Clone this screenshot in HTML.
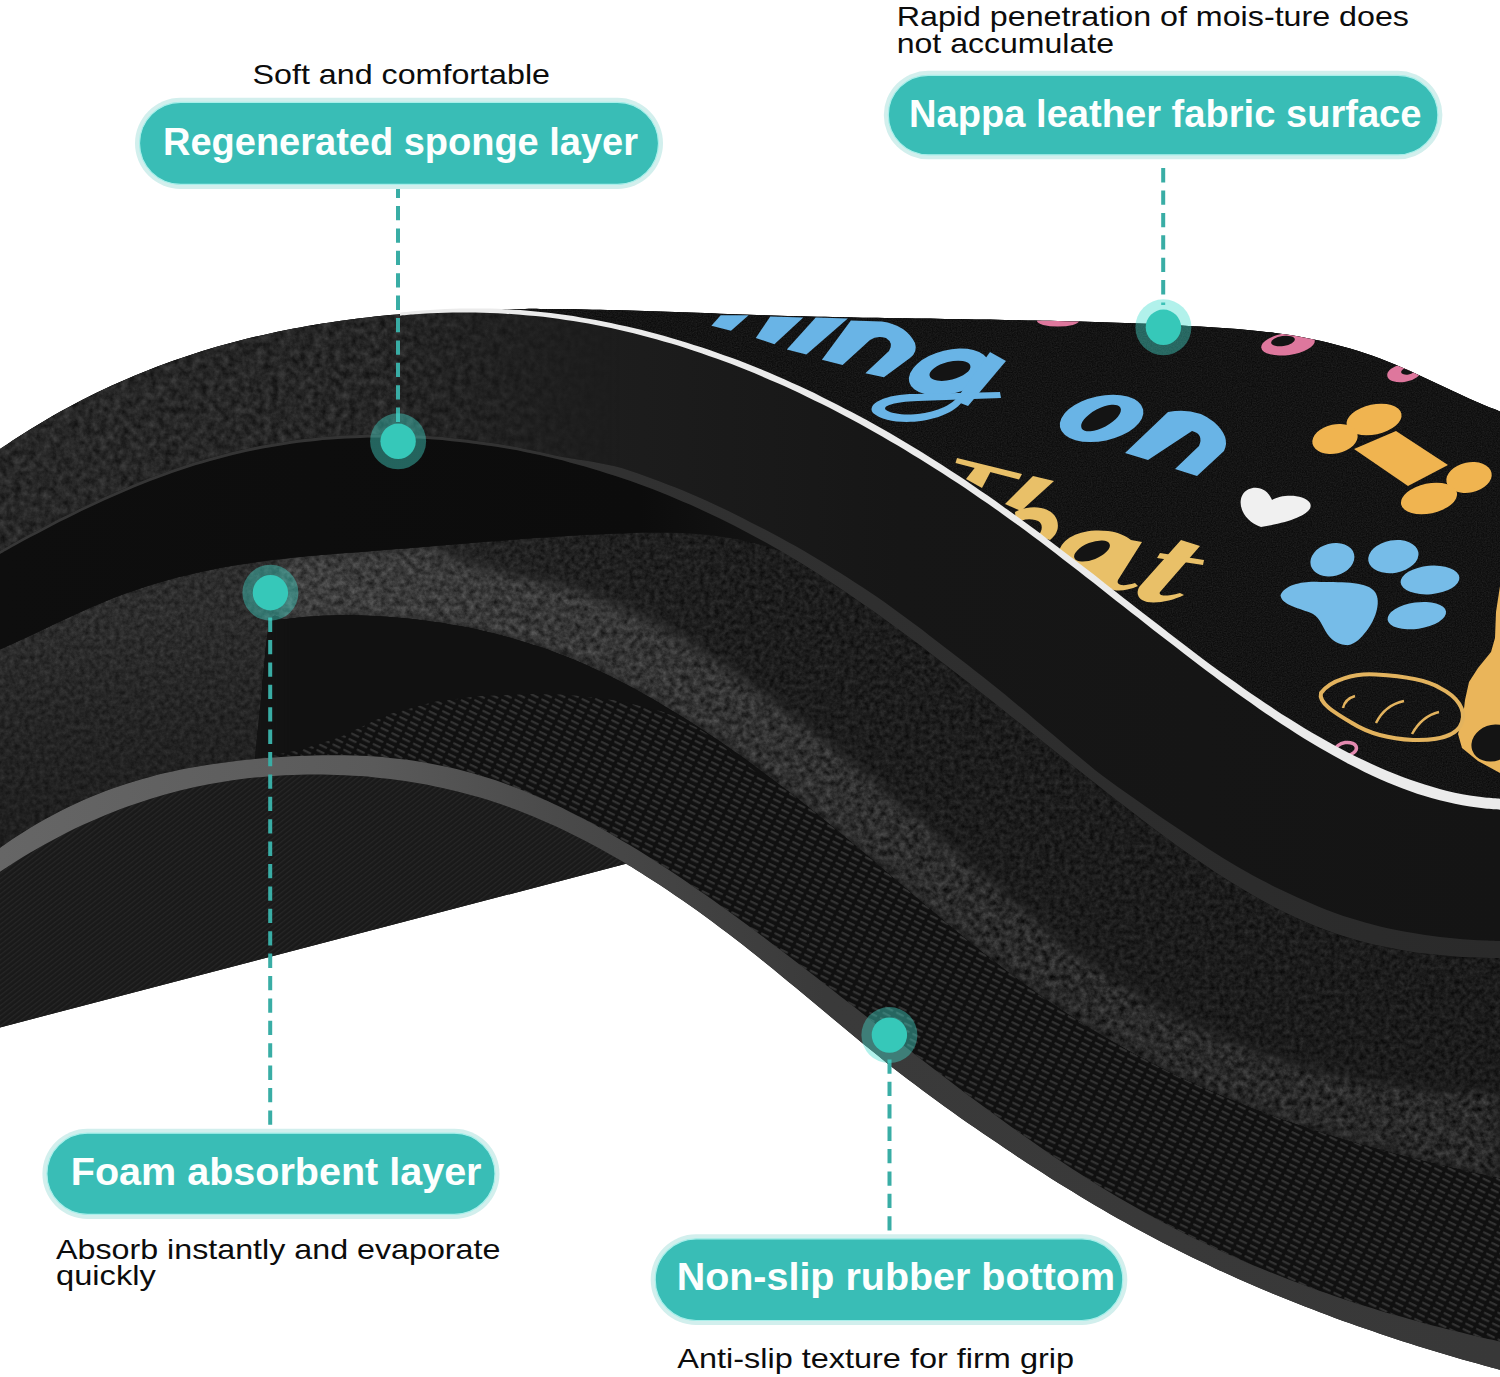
<!DOCTYPE html>
<html><head><meta charset="utf-8"><style>
html,body{margin:0;padding:0;background:#fff;}
body{width:1500px;height:1377px;overflow:hidden;font-family:"Liberation Sans",sans-serif;}
svg{display:block;}
</style></head><body>
<svg xmlns="http://www.w3.org/2000/svg" width="1500" height="1377" viewBox="0 0 1500 1377">
<defs>
<linearGradient id="gS" gradientUnits="userSpaceOnUse" x1="0" y1="0" x2="1500" y2="0">
 <stop offset="0" stop-color="#282828"/><stop offset="0.25" stop-color="#262626"/><stop offset="0.4" stop-color="#1d1d1d"/><stop offset="0.6" stop-color="#161616"/><stop offset="1" stop-color="#141414"/>
</linearGradient>
<linearGradient id="gFoam" gradientUnits="userSpaceOnUse" x1="0" y1="0" x2="1500" y2="0">
 <stop offset="0" stop-color="#2e2e2e"/><stop offset="0.2" stop-color="#2c2c2c"/><stop offset="0.34" stop-color="#222222"/><stop offset="0.5" stop-color="#1d1d1d"/><stop offset="1" stop-color="#1b1b1b"/>
</linearGradient>
<linearGradient id="gFoamShade" gradientUnits="userSpaceOnUse" x1="0" y1="620" x2="0" y2="820">
 <stop offset="0" stop-color="#000" stop-opacity="0"/><stop offset="0.5" stop-color="#000" stop-opacity="0.18"/><stop offset="1" stop-color="#000" stop-opacity="0.3"/>
</linearGradient>
<linearGradient id="gShadeMask" gradientUnits="userSpaceOnUse" x1="250" y1="0" x2="330" y2="0">
 <stop offset="0" stop-color="#fff" stop-opacity="1"/><stop offset="1" stop-color="#fff" stop-opacity="0"/>
</linearGradient>
<mask id="mShade" maskUnits="userSpaceOnUse" x="0" y="0" width="1500" height="1377"><rect x="0" y="0" width="1500" height="1377" fill="url(#gShadeMask)"/></mask>
<linearGradient id="gFL" gradientUnits="userSpaceOnUse" x1="280" y1="0" x2="1500" y2="0">
 <stop offset="0" stop-color="#3e3e3e"/><stop offset="0.3" stop-color="#353535"/><stop offset="0.6" stop-color="#2a2a2a"/><stop offset="1" stop-color="#282828"/>
</linearGradient>
<linearGradient id="gRim" gradientUnits="userSpaceOnUse" x1="0" y1="0" x2="1500" y2="0">
 <stop offset="0" stop-color="#666666"/><stop offset="0.25" stop-color="#5a5a5a"/><stop offset="0.37" stop-color="#4a4a4a"/><stop offset="0.55" stop-color="#3a3a3a"/><stop offset="1" stop-color="#383838"/>
</linearGradient>
<linearGradient id="gB" gradientUnits="userSpaceOnUse" x1="0" y1="0" x2="800" y2="0">
 <stop offset="0" stop-color="#0e0e0e"/><stop offset="0.8" stop-color="#0c0c0c"/><stop offset="1" stop-color="#151515"/>
</linearGradient>
<linearGradient id="gC" gradientUnits="userSpaceOnUse" x1="0" y1="0" x2="1500" y2="0">
 <stop offset="0" stop-color="#363636"/><stop offset="0.5" stop-color="#303030"/><stop offset="1" stop-color="#2a2a2a"/>
</linearGradient>
<filter id="tx1" x="0" y="0" width="100%" height="100%" color-interpolation-filters="sRGB">
 <feTurbulence type="fractalNoise" baseFrequency="0.16" numOctaves="4" seed="7" result="n"/>
 <feColorMatrix in="n" type="matrix" values="1 0 0 0 0  1 0 0 0 0  1 0 0 0 0  0 0 0 0 1" result="g"/>
 <feComposite in="SourceGraphic" in2="g" operator="arithmetic" k1="0" k2="1" k3="0.32" k4="-0.16" result="c"/>
 <feComposite in="c" in2="SourceGraphic" operator="in"/>
</filter>
<filter id="tx3" x="0" y="0" width="100%" height="100%" color-interpolation-filters="sRGB">
 <feTurbulence type="fractalNoise" baseFrequency="0.8" numOctaves="2" seed="11" result="n"/>
 <feColorMatrix in="n" type="matrix" values="1 0 0 0 0  1 0 0 0 0  1 0 0 0 0  0 0 0 0 1" result="g"/>
 <feComposite in="SourceGraphic" in2="g" operator="arithmetic" k1="0" k2="1" k3="0.12" k4="-0.06" result="c"/>
 <feComposite in="c" in2="SourceGraphic" operator="in"/>
</filter>
<filter id="tx1b" x="0" y="0" width="100%" height="100%" color-interpolation-filters="sRGB">
 <feTurbulence type="fractalNoise" baseFrequency="0.2" numOctaves="4" seed="5" result="n"/>
 <feColorMatrix in="n" type="matrix" values="1 0 0 0 0  1 0 0 0 0  1 0 0 0 0  0 0 0 0 1" result="g"/>
 <feComposite in="SourceGraphic" in2="g" operator="arithmetic" k1="0" k2="1" k3="0.18" k4="-0.09" result="c"/>
 <feComposite in="c" in2="SourceGraphic" operator="in"/>
</filter>
<filter id="tx2" x="0" y="0" width="100%" height="100%" color-interpolation-filters="sRGB">
 <feTurbulence type="fractalNoise" baseFrequency="0.14" numOctaves="4" seed="3" result="n"/>
 <feColorMatrix in="n" type="matrix" values="1 0 0 0 0  1 0 0 0 0  1 0 0 0 0  0 0 0 0 1" result="g"/>
 <feComposite in="SourceGraphic" in2="g" operator="arithmetic" k1="0" k2="1" k3="0.22" k4="-0.11" result="c"/>
 <feComposite in="c" in2="SourceGraphic" operator="in"/>
</filter>
<pattern id="weave" patternUnits="userSpaceOnUse" width="12" height="6" patternTransform="rotate(26)">
 <rect width="12" height="6" fill="#101010"/>
 <rect x="1" y="0" width="9" height="2.2" rx="1.1" fill="#333333"/>
</pattern>
<pattern id="hatch" patternUnits="userSpaceOnUse" width="4" height="4" patternTransform="rotate(-38)">
 <rect width="4" height="4" fill="#191919"/>
 <rect width="4" height="1.3" fill="#262626"/>
</pattern>
<linearGradient id="gWovenMask" gradientUnits="userSpaceOnUse" x1="245" y1="0" x2="300" y2="0">
 <stop offset="0" stop-color="#fff" stop-opacity="0"/><stop offset="1" stop-color="#fff" stop-opacity="1"/>
</linearGradient>
<linearGradient id="gSleft" gradientUnits="userSpaceOnUse" x1="380" y1="0" x2="620" y2="0">
 <stop offset="0" stop-color="#fff" stop-opacity="1"/><stop offset="1" stop-color="#fff" stop-opacity="0"/>
</linearGradient>
<mask id="mSleft" maskUnits="userSpaceOnUse" x="0" y="0" width="1500" height="1377"><rect x="0" y="0" width="1500" height="1377" fill="url(#gSleft)"/></mask>
<mask id="mWoven" maskUnits="userSpaceOnUse" x="0" y="0" width="1500" height="1377"><rect x="0" y="0" width="1500" height="1377" fill="url(#gWovenMask)"/></mask>
<filter id="blur5" x="-5%" y="-5%" width="110%" height="110%"><feGaussianBlur stdDeviation="5"/></filter>
<mask id="mFL" maskUnits="userSpaceOnUse" x="0" y="0" width="1500" height="1377"><path d="M279.0,559.2 C280.5,559.1 284.5,558.6 288.0,558.2 C291.5,557.8 296.0,557.4 300.0,557.0 C304.0,556.6 308.0,556.2 312.0,555.8 C316.0,555.4 320.0,555.1 324.0,554.7 C328.0,554.4 332.0,554.1 336.0,553.7 C340.0,553.4 344.0,553.1 348.0,552.8 C352.0,552.5 356.0,552.2 360.0,551.9 C364.0,551.6 368.0,551.3 372.0,551.0 C376.0,550.7 380.0,550.4 384.0,550.1 C388.0,549.8 392.0,549.4 396.0,549.1 C400.0,548.8 404.0,548.5 408.0,548.2 C412.0,547.9 416.3,547.5 420.0,547.2 C423.7,546.9 428.3,546.5 430.0,546.4 L430.0,546.7 C432.5,547.9 440.0,551.8 445.1,554.1 C450.1,556.4 455.1,558.4 460.1,560.2 C465.2,562.1 470.2,563.7 475.2,565.3 C480.2,566.8 485.3,568.2 490.3,569.5 C495.3,570.8 500.3,572.0 505.4,573.2 C510.4,574.4 515.4,575.4 520.4,576.5 C525.4,577.6 530.5,578.6 535.5,579.7 C540.5,580.8 545.5,581.9 550.6,583.0 C555.6,584.2 560.6,585.4 565.6,586.7 C570.7,588.0 575.7,589.4 580.7,591.0 C585.7,592.5 590.8,594.1 595.8,595.9 C600.8,597.6 605.8,599.5 610.8,601.5 C615.9,603.5 620.9,605.6 625.9,607.9 C630.9,610.1 636.0,612.5 641.0,615.0 C646.0,617.5 651.0,620.2 656.1,622.9 C661.1,625.6 666.1,628.4 671.1,631.3 C676.2,634.2 681.2,637.2 686.2,640.3 C691.2,643.3 696.2,646.5 701.3,649.7 C706.3,652.9 711.3,656.1 716.3,659.5 C721.4,662.8 726.4,666.2 731.4,669.7 C736.4,673.1 741.5,676.7 746.5,680.2 C751.5,683.8 756.5,687.5 761.5,691.1 C766.6,694.8 771.6,698.6 776.6,702.4 C781.6,706.1 786.7,710.0 791.7,713.8 C796.7,717.7 801.7,721.6 806.8,725.6 C811.8,729.5 816.8,733.5 821.8,737.5 C826.9,741.5 831.9,745.6 836.9,749.6 C841.9,753.7 846.9,757.8 852.0,761.9 C857.0,766.0 862.0,770.2 867.0,774.3 C872.1,778.5 877.1,782.7 882.1,786.9 C887.1,791.1 892.2,795.3 897.2,799.5 C902.2,803.8 907.2,808.1 912.3,812.4 C917.3,816.7 922.3,821.0 927.3,825.4 C932.3,829.7 937.4,834.1 942.4,838.5 C947.4,842.9 952.4,847.3 957.5,851.7 C962.5,856.1 967.5,860.5 972.5,864.9 C977.6,869.3 982.6,873.7 987.6,878.1 C992.6,882.5 997.7,886.9 1002.7,891.2 C1007.7,895.6 1012.7,899.9 1017.7,904.2 C1022.8,908.5 1027.8,912.7 1032.8,916.9 C1037.8,921.1 1042.9,925.3 1047.9,929.4 C1052.9,933.4 1057.9,937.5 1063.0,941.4 C1068.0,945.3 1073.0,949.2 1078.0,952.9 C1083.1,956.7 1088.1,960.4 1093.1,964.0 C1098.1,967.6 1103.1,971.0 1108.2,974.5 C1113.2,977.9 1118.2,981.2 1123.2,984.4 C1128.3,987.7 1133.3,990.8 1138.3,993.9 C1143.3,996.9 1148.4,999.9 1153.4,1002.8 C1158.4,1005.7 1163.4,1008.5 1168.5,1011.2 C1173.5,1014.0 1178.5,1016.6 1183.5,1019.2 C1188.5,1021.8 1193.6,1024.3 1198.6,1026.7 C1203.6,1029.1 1208.6,1031.4 1213.7,1033.7 C1218.7,1035.9 1223.7,1038.1 1228.7,1040.2 C1233.8,1042.3 1238.8,1044.4 1243.8,1046.3 C1248.8,1048.3 1253.8,1050.2 1258.9,1052.0 C1263.9,1053.8 1268.9,1055.6 1273.9,1057.2 C1279.0,1058.9 1284.0,1060.5 1289.0,1062.1 C1294.0,1063.6 1299.1,1065.1 1304.1,1066.5 C1309.1,1067.9 1314.1,1069.2 1319.2,1070.5 C1324.2,1071.8 1329.2,1073.0 1334.2,1074.1 C1339.2,1075.3 1344.3,1076.3 1349.3,1077.4 C1354.3,1078.4 1359.3,1079.4 1364.4,1080.3 C1369.4,1081.2 1374.4,1082.0 1379.4,1082.8 C1384.5,1083.6 1389.5,1084.3 1394.5,1085.0 C1399.5,1085.6 1404.6,1086.2 1409.6,1086.8 C1414.6,1087.4 1419.6,1087.9 1424.6,1088.3 C1429.7,1088.8 1434.7,1089.2 1439.7,1089.5 C1444.7,1089.9 1449.8,1090.2 1454.8,1090.4 C1459.8,1090.7 1464.8,1090.9 1469.9,1091.0 C1474.9,1091.2 1479.9,1091.3 1484.9,1091.3 C1490.0,1091.4 1497.5,1091.3 1500.0,1091.3 L1500,1178 L1500.0,1178.4 C1497.5,1177.9 1490.0,1176.3 1485.0,1175.2 C1480.0,1174.1 1475.0,1173.0 1470.0,1171.9 C1465.0,1170.8 1460.0,1169.6 1455.0,1168.5 C1450.0,1167.3 1445.0,1166.2 1440.0,1165.0 C1435.0,1163.8 1430.0,1162.6 1425.0,1161.4 C1420.0,1160.2 1415.0,1158.9 1410.0,1157.7 C1405.0,1156.4 1400.0,1155.1 1395.0,1153.8 C1390.0,1152.5 1385.0,1151.2 1380.0,1149.8 C1375.0,1148.5 1370.0,1147.1 1365.0,1145.7 C1360.0,1144.3 1355.0,1142.8 1350.0,1141.3 C1345.0,1139.9 1340.0,1138.4 1335.0,1136.9 C1330.0,1135.3 1325.0,1133.8 1320.0,1132.2 C1315.0,1130.6 1310.0,1129.0 1305.0,1127.3 C1300.0,1125.6 1295.0,1123.9 1290.0,1122.2 C1285.0,1120.5 1280.0,1118.7 1275.0,1116.9 C1270.0,1115.1 1265.0,1113.2 1260.0,1111.3 C1255.0,1109.4 1250.0,1107.5 1245.0,1105.5 C1240.0,1103.5 1235.0,1101.5 1230.0,1099.5 C1225.0,1097.4 1220.0,1095.3 1215.0,1093.1 C1210.0,1091.0 1205.0,1088.8 1200.0,1086.5 C1195.0,1084.3 1190.0,1082.0 1185.0,1079.6 C1180.0,1077.3 1175.0,1074.9 1170.0,1072.4 C1165.0,1070.0 1160.0,1067.5 1155.0,1064.9 C1150.0,1062.3 1145.0,1059.7 1140.0,1057.0 C1135.0,1054.4 1130.0,1051.6 1125.0,1048.9 C1120.0,1046.1 1115.0,1043.2 1110.0,1040.3 C1105.0,1037.4 1100.0,1034.4 1095.0,1031.4 C1090.0,1028.4 1085.0,1025.3 1080.0,1022.1 C1075.0,1019.0 1070.0,1015.8 1065.0,1012.5 C1060.0,1009.2 1055.0,1005.8 1050.0,1002.4 C1045.0,999.0 1040.0,995.5 1035.0,992.0 C1030.0,988.4 1025.0,984.8 1020.0,981.1 C1015.0,977.4 1010.0,973.7 1005.0,969.9 C1000.0,966.1 995.0,962.2 990.0,958.3 C985.0,954.4 980.0,950.4 975.0,946.4 C970.0,942.4 965.0,938.4 960.0,934.3 C955.0,930.2 950.0,926.0 945.0,921.9 C940.0,917.7 935.0,913.5 930.0,909.3 C925.0,905.1 920.0,900.8 915.0,896.6 C910.0,892.3 905.0,888.0 900.0,883.7 C895.0,879.4 890.0,875.1 885.0,870.9 C880.0,866.6 875.0,862.3 870.0,858.1 C865.0,853.8 860.0,849.6 855.0,845.4 C850.0,841.2 845.0,837.1 840.0,833.0 C835.0,828.8 830.0,824.7 825.0,820.7 C820.0,816.6 815.0,812.6 810.0,808.6 C805.0,804.7 800.0,800.7 795.0,796.8 C790.0,792.9 785.0,789.0 780.0,785.2 C775.0,781.4 770.0,777.6 765.0,773.9 C760.0,770.2 755.0,766.5 750.0,762.8 C745.0,759.2 740.0,755.6 735.0,752.1 C730.0,748.6 725.0,745.1 720.0,741.6 C715.0,738.2 710.0,734.8 705.0,731.5 C700.0,728.2 695.0,725.0 690.0,721.8 C685.0,718.6 680.0,715.4 675.0,712.4 C670.0,709.3 665.0,706.3 660.0,703.4 C655.0,700.4 650.0,697.5 645.0,694.7 C640.0,691.9 635.0,689.2 630.0,686.5 C625.0,683.9 620.0,681.3 615.0,678.8 C610.0,676.3 605.0,673.8 600.0,671.5 C595.0,669.1 590.0,666.8 585.0,664.6 C580.0,662.4 575.0,660.3 570.0,658.3 C565.0,656.2 560.0,654.3 555.0,652.4 C550.0,650.6 545.0,648.8 540.0,647.1 C535.0,645.4 530.0,643.8 525.0,642.2 C520.0,640.7 515.0,639.2 510.0,637.8 C505.0,636.4 500.0,635.1 495.0,633.8 C490.0,632.6 485.0,631.4 480.0,630.3 C475.0,629.2 470.0,628.1 465.0,627.1 C460.0,626.2 455.0,625.2 450.0,624.4 C445.0,623.5 440.0,622.7 435.0,622.0 C430.0,621.2 425.0,620.6 420.0,619.9 C415.0,619.3 410.0,618.8 405.0,618.3 C400.0,617.8 395.0,617.3 390.0,616.9 C385.0,616.6 380.0,616.2 375.0,616.0 C370.0,615.7 365.0,615.5 360.0,615.4 C355.0,615.3 350.0,615.2 345.0,615.2 C340.0,615.2 335.0,615.3 330.0,615.5 C325.0,615.6 320.0,615.9 315.0,616.2 C310.0,616.5 305.0,616.9 300.0,617.4 C295.0,617.9 288.5,618.7 285.0,619.2 C281.5,619.6 280.0,620.0 279.0,620.1 Z" fill="#fff" filter="url(#blur5)"/></mask>
<clipPath id="clipTop"><path d="M400.0,314.1 C400.8,314.1 401.7,314.0 405.0,313.7 C408.3,313.4 415.0,312.9 420.0,312.6 C425.0,312.2 430.0,311.9 435.0,311.6 C440.0,311.3 445.0,311.0 450.0,310.8 C455.0,310.5 460.0,310.3 465.0,310.1 C470.0,309.9 475.0,309.8 480.0,309.6 C485.0,309.5 490.0,309.3 495.0,309.2 C500.0,309.1 505.0,309.1 510.0,309.0 C515.0,308.9 520.0,308.9 525.0,308.9 C530.0,308.8 535.0,308.8 540.0,308.9 C545.0,308.9 550.0,308.9 555.0,308.9 C560.0,309.0 565.0,309.0 570.0,309.1 C575.0,309.2 580.0,309.3 585.0,309.4 C590.0,309.5 595.0,309.6 600.0,309.7 C605.0,309.8 610.0,309.9 615.0,310.1 C620.0,310.2 625.0,310.3 630.0,310.5 C635.0,310.6 640.0,310.8 645.0,311.0 C650.0,311.1 655.0,311.3 660.0,311.5 C665.0,311.7 670.0,311.8 675.0,312.0 C680.0,312.2 685.0,312.4 690.0,312.6 C695.0,312.8 700.0,312.9 705.0,313.1 C710.0,313.3 715.0,313.5 720.0,313.7 C725.0,313.9 730.0,314.0 735.0,314.2 C740.0,314.4 745.0,314.6 750.0,314.7 C755.0,314.9 760.0,315.1 765.0,315.2 C770.0,315.4 775.0,315.5 780.0,315.7 C785.0,315.8 790.0,316.0 795.0,316.1 C800.0,316.2 805.0,316.3 810.0,316.5 C815.0,316.6 820.0,316.7 825.0,316.8 C830.0,316.9 835.0,317.0 840.0,317.1 C845.0,317.2 850.0,317.3 855.0,317.4 C860.0,317.5 865.0,317.6 870.0,317.7 C875.0,317.8 880.0,317.8 885.0,317.9 C890.0,318.0 895.0,318.1 900.0,318.2 C905.0,318.3 910.0,318.3 915.0,318.4 C920.0,318.5 925.0,318.6 930.0,318.6 C935.0,318.7 940.0,318.8 945.0,318.9 C950.0,319.0 955.0,319.0 960.0,319.1 C965.0,319.2 970.0,319.3 975.0,319.4 C980.0,319.4 985.0,319.5 990.0,319.6 C995.0,319.7 1000.0,319.8 1005.0,319.9 C1010.0,320.0 1015.0,320.1 1020.0,320.2 C1025.0,320.3 1030.0,320.4 1035.0,320.5 C1040.0,320.6 1045.0,320.7 1050.0,320.8 C1055.0,320.9 1060.0,321.1 1065.0,321.2 C1070.0,321.3 1075.0,321.4 1080.0,321.6 C1085.0,321.7 1090.0,321.9 1095.0,322.0 C1100.0,322.2 1105.0,322.3 1110.0,322.5 C1115.0,322.7 1120.0,322.9 1125.0,323.0 C1130.0,323.2 1135.0,323.4 1140.0,323.6 C1145.0,323.8 1150.0,324.0 1155.0,324.3 C1160.0,324.5 1165.0,324.7 1170.0,325.0 C1175.0,325.2 1180.0,325.5 1185.0,325.7 C1190.0,326.0 1195.0,326.2 1200.0,326.5 C1205.0,326.8 1210.0,327.1 1215.0,327.4 C1220.0,327.8 1225.0,328.1 1230.0,328.5 C1235.0,328.8 1240.0,329.2 1245.0,329.7 C1250.0,330.1 1255.0,330.6 1260.0,331.2 C1265.0,331.7 1270.0,332.3 1275.0,332.9 C1280.0,333.6 1285.0,334.3 1290.0,335.1 C1295.0,335.9 1300.0,336.7 1305.0,337.7 C1310.0,338.6 1315.0,339.6 1320.0,340.8 C1325.0,341.9 1330.0,343.1 1335.0,344.4 C1340.0,345.7 1345.0,347.1 1350.0,348.6 C1355.0,350.0 1360.0,351.6 1365.0,353.3 C1370.0,355.0 1375.0,356.8 1380.0,358.6 C1385.0,360.5 1390.0,362.5 1395.0,364.6 C1400.0,366.6 1405.0,368.8 1410.0,371.0 C1415.0,373.3 1420.0,375.6 1425.0,377.9 C1430.0,380.2 1435.0,382.6 1440.0,385.0 C1445.0,387.4 1450.0,389.8 1455.0,392.1 C1460.0,394.5 1465.0,396.8 1470.0,399.1 C1475.0,401.3 1480.0,403.5 1485.0,405.6 C1490.0,407.6 1497.5,410.5 1500.0,411.5 L1500,804 L1500.0,804.3 C1497.5,804.1 1490.0,803.6 1484.9,803.1 C1479.9,802.6 1474.9,801.9 1469.9,801.1 C1464.8,800.3 1459.8,799.3 1454.8,798.2 C1449.8,797.2 1444.7,796.0 1439.7,794.6 C1434.7,793.3 1429.7,791.9 1424.7,790.3 C1419.6,788.7 1414.6,787.0 1409.6,785.3 C1404.6,783.5 1399.5,781.5 1394.5,779.5 C1389.5,777.5 1384.5,775.4 1379.5,773.2 C1374.4,771.0 1369.4,768.7 1364.4,766.2 C1359.4,763.8 1354.3,761.3 1349.3,758.7 C1344.3,756.1 1339.3,753.4 1334.2,750.7 C1329.2,747.9 1324.2,745.1 1319.2,742.1 C1314.2,739.2 1309.1,736.2 1304.1,733.1 C1299.1,730.1 1294.1,726.9 1289.0,723.7 C1284.0,720.5 1279.0,717.2 1274.0,713.9 C1268.9,710.6 1263.9,707.2 1258.9,703.7 C1253.9,700.3 1248.9,696.8 1243.8,693.3 C1238.8,689.7 1233.8,686.1 1228.8,682.5 C1223.7,678.8 1218.7,675.2 1213.7,671.4 C1208.7,667.7 1203.7,664.0 1198.6,660.2 C1193.6,656.4 1188.6,652.6 1183.6,648.8 C1178.5,644.9 1173.5,641.1 1168.5,637.2 C1163.5,633.3 1158.4,629.4 1153.4,625.5 C1148.4,621.6 1143.4,617.7 1138.4,613.8 C1133.3,609.8 1128.3,605.9 1123.3,602.0 C1118.3,598.0 1113.2,594.1 1108.2,590.1 C1103.2,586.2 1098.2,582.3 1093.2,578.4 C1088.1,574.4 1083.1,570.5 1078.1,566.6 C1073.1,562.8 1068.0,558.9 1063.0,555.0 C1058.0,551.2 1053.0,547.3 1047.9,543.5 C1042.9,539.7 1037.9,535.9 1032.9,532.2 C1027.9,528.5 1022.8,524.7 1017.8,521.1 C1012.8,517.4 1007.8,513.8 1002.7,510.2 C997.7,506.6 992.7,503.1 987.7,499.6 C982.6,496.1 977.6,492.6 972.6,489.2 C967.6,485.8 962.6,482.4 957.5,479.1 C952.5,475.8 947.5,472.5 942.5,469.2 C937.4,466.0 932.4,462.8 927.4,459.7 C922.4,456.5 917.4,453.4 912.3,450.4 C907.3,447.3 902.3,444.3 897.3,441.4 C892.2,438.4 887.2,435.5 882.2,432.6 C877.2,429.8 872.1,426.9 867.1,424.2 C862.1,421.4 857.1,418.7 852.1,416.0 C847.0,413.3 842.0,410.7 837.0,408.1 C832.0,405.5 826.9,403.0 821.9,400.5 C816.9,398.0 811.9,395.5 806.8,393.1 C801.8,390.8 796.8,388.4 791.8,386.1 C786.8,383.8 781.7,381.6 776.7,379.4 C771.7,377.2 766.7,375.0 761.6,373.0 C756.6,370.9 751.6,368.8 746.6,366.8 C741.6,364.8 736.5,362.9 731.5,361.0 C726.5,359.1 721.5,357.2 716.4,355.5 C711.4,353.7 706.4,351.9 701.4,350.2 C696.3,348.5 691.3,346.9 686.3,345.3 C681.3,343.7 676.3,342.2 671.2,340.7 C666.2,339.2 661.2,337.8 656.2,336.4 C651.1,335.1 646.1,333.7 641.1,332.5 C636.1,331.2 631.1,330.0 626.0,328.8 C621.0,327.7 616.0,326.5 611.0,325.5 C605.9,324.4 600.9,323.4 595.9,322.5 C590.9,321.5 585.8,320.7 580.8,319.8 C575.8,319.0 570.8,318.2 565.8,317.5 C560.7,316.7 555.7,316.1 550.7,315.5 C545.7,314.8 540.6,314.3 535.6,313.8 C530.6,313.3 525.6,312.8 520.5,312.4 C515.5,312.1 510.5,311.7 505.5,311.4 C500.5,311.2 495.4,310.9 490.4,310.8 C485.4,310.6 480.4,310.5 475.3,310.5 C470.3,310.4 465.3,310.4 460.3,310.5 C455.3,310.6 450.2,310.7 445.2,310.9 C440.2,311.1 435.2,311.3 430.1,311.6 C425.1,311.9 420.1,312.3 415.1,312.7 C410.0,313.1 402.5,313.9 400.0,314.2 Z"/></clipPath>
</defs>
<rect width="1500" height="1377" fill="#ffffff"/>
<path d="M0.0,449.0 C2.5,447.4 10.0,442.3 15.0,439.0 C20.0,435.7 25.0,432.6 30.0,429.5 C35.0,426.4 40.0,423.4 45.0,420.4 C50.0,417.5 55.0,414.6 60.0,411.8 C65.0,409.0 70.0,406.3 75.0,403.7 C80.0,401.0 85.0,398.5 90.0,396.0 C95.0,393.5 100.0,391.1 105.0,388.7 C110.0,386.4 115.0,384.1 120.0,381.9 C125.0,379.7 130.0,377.5 135.0,375.4 C140.0,373.3 145.0,371.3 150.0,369.4 C155.0,367.4 160.0,365.5 165.0,363.7 C170.0,361.9 175.0,360.1 180.0,358.4 C185.0,356.7 190.0,355.0 195.0,353.4 C200.0,351.8 205.0,350.3 210.0,348.8 C215.0,347.3 220.0,345.8 225.0,344.5 C230.0,343.1 235.0,341.7 240.0,340.5 C245.0,339.2 250.0,338.0 255.0,336.8 C260.0,335.6 265.0,334.5 270.0,333.4 C275.0,332.3 280.0,331.2 285.0,330.2 C290.0,329.2 295.0,328.3 300.0,327.4 C305.0,326.4 310.0,325.6 315.0,324.7 C320.0,323.9 325.0,323.1 330.0,322.4 C335.0,321.6 340.0,320.9 345.0,320.2 C350.0,319.5 355.0,318.9 360.0,318.3 C365.0,317.7 370.0,317.1 375.0,316.5 C380.0,316.0 385.0,315.5 390.0,315.0 C395.0,314.6 400.0,314.1 405.0,313.7 C410.0,313.3 415.0,312.9 420.0,312.6 C425.0,312.2 430.0,311.9 435.0,311.6 C440.0,311.3 445.0,311.0 450.0,310.8 C455.0,310.5 460.0,310.3 465.0,310.1 C470.0,309.9 475.0,309.8 480.0,309.6 C485.0,309.5 490.0,309.3 495.0,309.2 C500.0,309.1 505.0,309.1 510.0,309.0 C515.0,308.9 520.0,308.9 525.0,308.9 C530.0,308.8 535.0,308.8 540.0,308.9 C545.0,308.9 550.0,308.9 555.0,308.9 C560.0,309.0 565.0,309.0 570.0,309.1 C575.0,309.2 580.0,309.3 585.0,309.4 C590.0,309.5 595.0,309.6 600.0,309.7 C605.0,309.8 610.0,309.9 615.0,310.1 C620.0,310.2 625.0,310.3 630.0,310.5 C635.0,310.6 640.0,310.8 645.0,311.0 C650.0,311.1 655.0,311.3 660.0,311.5 C665.0,311.7 670.0,311.8 675.0,312.0 C680.0,312.2 685.0,312.4 690.0,312.6 C695.0,312.8 700.0,312.9 705.0,313.1 C710.0,313.3 715.0,313.5 720.0,313.7 C725.0,313.9 730.0,314.0 735.0,314.2 C740.0,314.4 745.0,314.6 750.0,314.7 C755.0,314.9 760.0,315.1 765.0,315.2 C770.0,315.4 775.0,315.5 780.0,315.7 C785.0,315.8 790.0,316.0 795.0,316.1 C800.0,316.2 805.0,316.3 810.0,316.5 C815.0,316.6 820.0,316.7 825.0,316.8 C830.0,316.9 835.0,317.0 840.0,317.1 C845.0,317.2 850.0,317.3 855.0,317.4 C860.0,317.5 865.0,317.6 870.0,317.7 C875.0,317.8 880.0,317.8 885.0,317.9 C890.0,318.0 895.0,318.1 900.0,318.2 C905.0,318.3 910.0,318.3 915.0,318.4 C920.0,318.5 925.0,318.6 930.0,318.6 C935.0,318.7 940.0,318.8 945.0,318.9 C950.0,319.0 955.0,319.0 960.0,319.1 C965.0,319.2 970.0,319.3 975.0,319.4 C980.0,319.4 985.0,319.5 990.0,319.6 C995.0,319.7 1000.0,319.8 1005.0,319.9 C1010.0,320.0 1015.0,320.1 1020.0,320.2 C1025.0,320.3 1030.0,320.4 1035.0,320.5 C1040.0,320.6 1045.0,320.7 1050.0,320.8 C1055.0,320.9 1060.0,321.1 1065.0,321.2 C1070.0,321.3 1075.0,321.4 1080.0,321.6 C1085.0,321.7 1090.0,321.9 1095.0,322.0 C1100.0,322.2 1105.0,322.3 1110.0,322.5 C1115.0,322.7 1120.0,322.9 1125.0,323.0 C1130.0,323.2 1135.0,323.4 1140.0,323.6 C1145.0,323.8 1150.0,324.0 1155.0,324.3 C1160.0,324.5 1165.0,324.7 1170.0,325.0 C1175.0,325.2 1180.0,325.5 1185.0,325.7 C1190.0,326.0 1195.0,326.2 1200.0,326.5 C1205.0,326.8 1210.0,327.1 1215.0,327.4 C1220.0,327.8 1225.0,328.1 1230.0,328.5 C1235.0,328.8 1240.0,329.2 1245.0,329.7 C1250.0,330.1 1255.0,330.6 1260.0,331.2 C1265.0,331.7 1270.0,332.3 1275.0,332.9 C1280.0,333.6 1285.0,334.3 1290.0,335.1 C1295.0,335.9 1300.0,336.7 1305.0,337.7 C1310.0,338.6 1315.0,339.6 1320.0,340.8 C1325.0,341.9 1330.0,343.1 1335.0,344.4 C1340.0,345.7 1345.0,347.1 1350.0,348.6 C1355.0,350.0 1360.0,351.6 1365.0,353.3 C1370.0,355.0 1375.0,356.8 1380.0,358.6 C1385.0,360.5 1390.0,362.5 1395.0,364.6 C1400.0,366.6 1405.0,368.8 1410.0,371.0 C1415.0,373.3 1420.0,375.6 1425.0,377.9 C1430.0,380.2 1435.0,382.6 1440.0,385.0 C1445.0,387.4 1450.0,389.8 1455.0,392.1 C1460.0,394.5 1465.0,396.8 1470.0,399.1 C1475.0,401.3 1480.0,403.5 1485.0,405.6 C1490.0,407.6 1497.5,410.5 1500.0,411.5 L1500,1369.5 L1500.0,1369.7 C1497.5,1369.1 1490.0,1367.0 1485.0,1365.7 C1480.0,1364.3 1475.0,1362.9 1470.0,1361.5 C1465.0,1360.1 1460.0,1358.6 1455.0,1357.2 C1450.0,1355.7 1445.0,1354.3 1440.0,1352.8 C1435.0,1351.3 1430.0,1349.7 1425.0,1348.2 C1420.0,1346.7 1415.0,1345.1 1410.0,1343.5 C1405.0,1341.9 1400.0,1340.3 1395.0,1338.7 C1390.0,1337.1 1385.0,1335.4 1380.0,1333.7 C1375.0,1332.0 1370.0,1330.3 1365.0,1328.6 C1360.0,1326.9 1355.0,1325.1 1350.0,1323.3 C1345.0,1321.6 1340.0,1319.8 1335.0,1317.9 C1330.0,1316.1 1325.0,1314.2 1320.0,1312.3 C1315.0,1310.4 1310.0,1308.5 1305.0,1306.6 C1300.0,1304.6 1295.0,1302.6 1290.0,1300.6 C1285.0,1298.6 1280.0,1296.6 1275.0,1294.5 C1270.0,1292.5 1265.0,1290.4 1260.0,1288.2 C1255.0,1286.1 1250.0,1283.9 1245.0,1281.7 C1240.0,1279.5 1235.0,1277.3 1230.0,1275.0 C1225.0,1272.8 1220.0,1270.5 1215.0,1268.2 C1210.0,1265.8 1205.0,1263.5 1200.0,1261.1 C1195.0,1258.7 1190.0,1256.2 1185.0,1253.8 C1180.0,1251.3 1175.0,1248.8 1170.0,1246.2 C1165.0,1243.7 1160.0,1241.1 1155.0,1238.5 C1150.0,1235.9 1145.0,1233.2 1140.0,1230.5 C1135.0,1227.8 1130.0,1225.1 1125.0,1222.3 C1120.0,1219.5 1115.0,1216.7 1110.0,1213.9 C1105.0,1211.0 1100.0,1208.1 1095.0,1205.2 C1090.0,1202.3 1085.0,1199.3 1080.0,1196.3 C1075.0,1193.2 1070.0,1190.2 1065.0,1187.1 C1060.0,1184.0 1055.0,1180.9 1050.0,1177.7 C1045.0,1174.5 1040.0,1171.3 1035.0,1168.1 C1030.0,1164.8 1025.0,1161.6 1020.0,1158.3 C1015.0,1155.0 1010.0,1151.6 1005.0,1148.3 C1000.0,1144.9 995.0,1141.5 990.0,1138.1 C985.0,1134.7 980.0,1131.3 975.0,1127.8 C970.0,1124.4 965.0,1120.9 960.0,1117.4 C955.0,1113.8 950.0,1110.3 945.0,1106.7 C940.0,1103.1 935.0,1099.5 930.0,1095.8 C925.0,1092.1 920.0,1088.4 915.0,1084.6 C910.0,1080.9 905.0,1077.0 900.0,1073.2 C895.0,1069.3 890.0,1065.3 885.0,1061.4 C880.0,1057.4 875.0,1053.3 870.0,1049.3 C865.0,1045.2 860.0,1041.1 855.0,1037.0 C850.0,1032.9 845.0,1028.7 840.0,1024.6 C835.0,1020.4 830.0,1016.2 825.0,1012.1 C820.0,1007.9 815.0,1003.7 810.0,999.5 C805.0,995.4 800.0,991.2 795.0,987.0 C790.0,982.9 785.0,978.8 780.0,974.7 C775.0,970.6 770.0,966.5 765.0,962.5 C760.0,958.4 755.0,954.4 750.0,950.5 C745.0,946.5 740.0,942.6 735.0,938.8 C730.0,934.9 725.0,931.1 720.0,927.4 C715.0,923.6 710.0,920.0 705.0,916.3 C700.0,912.7 695.0,909.1 690.0,905.6 C685.0,902.0 680.0,898.6 675.0,895.2 C670.0,891.7 665.0,888.4 660.0,885.1 C655.0,881.8 650.0,878.6 645.0,875.4 C640.0,872.3 633.2,868.1 630.0,866.1 C626.8,864.2 626.7,864.2 626.0,863.8 L0,1027.4 Z" fill="#151515"/>
<path d="M0.0,871.8 C2.5,870.2 10.0,865.2 15.0,862.0 C20.0,858.9 25.0,855.8 30.0,852.8 C35.0,849.9 40.0,847.0 45.0,844.2 C50.0,841.4 55.0,838.7 60.0,836.2 C65.0,833.6 70.0,831.1 75.0,828.6 C80.0,826.2 85.0,823.9 90.0,821.7 C95.0,819.4 100.0,817.3 105.0,815.2 C110.0,813.2 115.0,811.2 120.0,809.3 C125.0,807.4 130.0,805.6 135.0,803.9 C140.0,802.2 145.0,800.6 150.0,799.0 C155.0,797.5 160.0,796.0 165.0,794.6 C170.0,793.2 175.0,791.9 180.0,790.6 C185.0,789.4 190.0,788.2 195.0,787.1 C200.0,786.0 205.0,785.0 210.0,784.1 C215.0,783.2 220.0,782.3 225.0,781.5 C230.0,780.7 235.0,780.0 240.0,779.3 C245.0,778.7 250.0,778.1 255.0,777.6 C260.0,777.1 265.0,776.6 270.0,776.2 C275.0,775.9 280.0,775.5 285.0,775.3 C290.0,775.0 295.0,774.8 300.0,774.7 C305.0,774.6 310.0,774.5 315.0,774.5 C320.0,774.5 325.0,774.6 330.0,774.7 C335.0,774.8 340.0,775.0 345.0,775.2 C350.0,775.5 355.0,775.7 360.0,776.1 C365.0,776.5 370.0,776.9 375.0,777.4 C380.0,777.8 385.0,778.4 390.0,779.0 C395.0,779.6 400.0,780.3 405.0,781.0 C410.0,781.8 415.0,782.6 420.0,783.5 C425.0,784.4 430.0,785.3 435.0,786.4 C440.0,787.4 445.0,788.5 450.0,789.7 C455.0,790.8 460.0,792.1 465.0,793.4 C470.0,794.8 475.0,796.2 480.0,797.6 C485.0,799.1 490.0,800.7 495.0,802.3 C500.0,804.0 505.0,805.7 510.0,807.5 C515.0,809.3 520.0,811.2 525.0,813.2 C530.0,815.2 535.0,817.2 540.0,819.4 C545.0,821.5 550.0,823.7 555.0,826.0 C560.0,828.3 565.0,830.7 570.0,833.2 C575.0,835.6 580.0,838.1 585.0,840.8 C590.0,843.4 595.0,846.0 600.0,848.8 C605.0,851.5 610.7,854.8 615.0,857.3 C619.3,859.8 624.2,862.7 626.0,863.8 L0,1027.4 Z" fill="url(#hatch)"/>
<path d="M0.0,449.0 C2.5,447.4 10.0,442.3 15.0,439.0 C20.0,435.7 25.0,432.6 30.0,429.5 C35.0,426.4 40.0,423.4 45.0,420.4 C50.0,417.5 55.0,414.6 60.0,411.8 C65.0,409.0 70.0,406.3 75.0,403.7 C80.0,401.0 85.0,398.5 90.0,396.0 C95.0,393.5 100.0,391.1 105.0,388.7 C110.0,386.4 115.0,384.1 120.0,381.9 C125.0,379.7 130.0,377.5 135.0,375.4 C140.0,373.3 145.0,371.3 150.0,369.4 C155.0,367.4 160.0,365.5 165.0,363.7 C170.0,361.9 175.0,360.1 180.0,358.4 C185.0,356.7 190.0,355.0 195.0,353.4 C200.0,351.8 205.0,350.3 210.0,348.8 C215.0,347.3 220.0,345.8 225.0,344.5 C230.0,343.1 235.0,341.7 240.0,340.5 C245.0,339.2 250.0,338.0 255.0,336.8 C260.0,335.6 265.0,334.5 270.0,333.4 C275.0,332.3 280.0,331.2 285.0,330.2 C290.0,329.2 295.0,328.3 300.0,327.4 C305.0,326.4 310.0,325.6 315.0,324.7 C320.0,323.9 325.0,323.1 330.0,322.4 C335.0,321.6 340.0,320.9 345.0,320.2 C350.0,319.5 355.0,318.9 360.0,318.3 C365.0,317.7 370.0,317.1 375.0,316.5 C380.0,316.0 385.0,315.5 390.0,315.0 C395.0,314.6 400.0,314.1 405.0,313.7 C410.0,313.3 415.0,312.9 420.0,312.6 C425.0,312.2 430.0,311.9 435.0,311.6 C440.0,311.3 445.0,311.0 450.0,310.8 C455.0,310.5 460.0,310.3 465.0,310.1 C470.0,309.9 475.0,309.8 480.0,309.6 C485.0,309.5 490.0,309.3 495.0,309.2 C500.0,309.1 505.0,309.1 510.0,309.0 C515.0,308.9 520.0,308.9 525.0,308.9 C530.0,308.8 535.0,308.8 540.0,308.9 C545.0,308.9 550.0,308.9 555.0,308.9 C560.0,309.0 565.0,309.0 570.0,309.1 C575.0,309.2 580.0,309.3 585.0,309.4 C590.0,309.5 595.0,309.6 600.0,309.7 C605.0,309.8 610.0,309.9 615.0,310.1 C620.0,310.2 625.0,310.3 630.0,310.5 C635.0,310.6 640.0,310.8 645.0,311.0 C650.0,311.1 655.0,311.3 660.0,311.5 C665.0,311.7 670.0,311.8 675.0,312.0 C680.0,312.2 685.0,312.4 690.0,312.6 C695.0,312.8 700.0,312.9 705.0,313.1 C710.0,313.3 715.0,313.5 720.0,313.7 C725.0,313.9 730.0,314.0 735.0,314.2 C740.0,314.4 745.0,314.6 750.0,314.7 C755.0,314.9 760.0,315.1 765.0,315.2 C770.0,315.4 775.0,315.5 780.0,315.7 C785.0,315.8 790.0,316.0 795.0,316.1 C800.0,316.2 805.0,316.3 810.0,316.5 C815.0,316.6 820.0,316.7 825.0,316.8 C830.0,316.9 835.0,317.0 840.0,317.1 C845.0,317.2 850.0,317.3 855.0,317.4 C860.0,317.5 865.0,317.6 870.0,317.7 C875.0,317.8 880.0,317.8 885.0,317.9 C890.0,318.0 895.0,318.1 900.0,318.2 C905.0,318.3 910.0,318.3 915.0,318.4 C920.0,318.5 925.0,318.6 930.0,318.6 C935.0,318.7 940.0,318.8 945.0,318.9 C950.0,319.0 955.0,319.0 960.0,319.1 C965.0,319.2 970.0,319.3 975.0,319.4 C980.0,319.4 985.0,319.5 990.0,319.6 C995.0,319.7 1000.0,319.8 1005.0,319.9 C1010.0,320.0 1015.0,320.1 1020.0,320.2 C1025.0,320.3 1030.0,320.4 1035.0,320.5 C1040.0,320.6 1045.0,320.7 1050.0,320.8 C1055.0,320.9 1060.0,321.1 1065.0,321.2 C1070.0,321.3 1075.0,321.4 1080.0,321.6 C1085.0,321.7 1090.0,321.9 1095.0,322.0 C1100.0,322.2 1105.0,322.3 1110.0,322.5 C1115.0,322.7 1120.0,322.9 1125.0,323.0 C1130.0,323.2 1135.0,323.4 1140.0,323.6 C1145.0,323.8 1150.0,324.0 1155.0,324.3 C1160.0,324.5 1165.0,324.7 1170.0,325.0 C1175.0,325.2 1180.0,325.5 1185.0,325.7 C1190.0,326.0 1195.0,326.2 1200.0,326.5 C1205.0,326.8 1210.0,327.1 1215.0,327.4 C1220.0,327.8 1225.0,328.1 1230.0,328.5 C1235.0,328.8 1240.0,329.2 1245.0,329.7 C1250.0,330.1 1255.0,330.6 1260.0,331.2 C1265.0,331.7 1270.0,332.3 1275.0,332.9 C1280.0,333.6 1285.0,334.3 1290.0,335.1 C1295.0,335.9 1300.0,336.7 1305.0,337.7 C1310.0,338.6 1315.0,339.6 1320.0,340.8 C1325.0,341.9 1330.0,343.1 1335.0,344.4 C1340.0,345.7 1345.0,347.1 1350.0,348.6 C1355.0,350.0 1360.0,351.6 1365.0,353.3 C1370.0,355.0 1375.0,356.8 1380.0,358.6 C1385.0,360.5 1390.0,362.5 1395.0,364.6 C1400.0,366.6 1405.0,368.8 1410.0,371.0 C1415.0,373.3 1420.0,375.6 1425.0,377.9 C1430.0,380.2 1435.0,382.6 1440.0,385.0 C1445.0,387.4 1450.0,389.8 1455.0,392.1 C1460.0,394.5 1465.0,396.8 1470.0,399.1 C1475.0,401.3 1480.0,403.5 1485.0,405.6 C1490.0,407.6 1497.5,410.5 1500.0,411.5 L1500,942 L1500.0,941.1 C1497.5,941.0 1490.0,940.8 1485.0,940.5 C1480.0,940.3 1475.0,940.0 1470.0,939.7 C1465.0,939.3 1460.0,939.0 1455.0,938.5 C1450.0,938.0 1445.0,937.5 1440.0,936.9 C1435.0,936.4 1430.0,935.7 1425.0,935.0 C1420.0,934.3 1415.0,933.5 1410.0,932.6 C1405.0,931.7 1400.0,930.8 1395.0,929.7 C1390.0,928.7 1385.0,927.6 1380.0,926.4 C1375.0,925.2 1370.0,923.9 1365.0,922.5 C1360.0,921.1 1355.0,919.6 1350.0,918.0 C1345.0,916.4 1340.0,914.7 1335.0,912.9 C1330.0,911.1 1325.0,909.2 1320.0,907.2 C1315.0,905.1 1310.0,902.9 1305.0,900.7 C1300.0,898.6 1295.0,896.4 1290.0,894.1 C1285.0,891.8 1280.0,889.5 1275.0,887.0 C1270.0,884.5 1265.0,881.9 1260.0,879.3 C1255.0,876.6 1250.0,873.9 1245.0,871.0 C1240.0,868.2 1235.0,865.2 1230.0,862.2 C1225.0,859.2 1220.0,856.1 1215.0,853.0 C1210.0,849.8 1205.0,846.6 1200.0,843.3 C1195.0,840.0 1190.0,836.6 1185.0,833.2 C1180.0,829.9 1175.0,826.5 1170.0,823.2 C1165.0,819.8 1160.0,816.5 1155.0,813.0 C1150.0,809.6 1145.0,806.1 1140.0,802.6 C1135.0,799.1 1130.0,795.6 1125.0,792.0 C1120.0,788.5 1115.0,785.0 1110.0,781.3 C1105.0,777.6 1100.0,773.9 1095.0,769.9 C1090.0,765.9 1085.0,761.6 1080.0,757.4 C1075.0,753.3 1070.0,749.1 1065.0,744.9 C1060.0,740.7 1055.0,736.5 1050.0,732.3 C1045.0,728.1 1040.0,723.9 1035.0,719.7 C1030.0,715.5 1025.0,711.3 1020.0,707.1 C1015.0,703.0 1010.0,698.7 1005.0,694.6 C1000.0,690.5 995.0,686.5 990.0,682.5 C985.0,678.5 980.0,674.6 975.0,670.7 C970.0,666.8 965.0,662.9 960.0,659.0 C955.0,655.1 950.0,651.2 945.0,647.4 C940.0,643.5 935.0,639.7 930.0,635.9 C925.0,632.1 920.0,628.3 915.0,624.6 C910.0,620.8 905.0,617.1 900.0,613.5 C895.0,609.8 890.0,606.1 885.0,602.5 C880.0,599.0 875.0,595.6 870.0,592.2 C865.0,588.9 860.0,585.6 855.0,582.4 C850.0,579.1 845.0,575.9 840.0,572.7 C835.0,569.6 830.0,566.5 825.0,563.4 C820.0,560.4 815.0,557.4 810.0,554.4 C805.0,551.5 800.0,548.6 795.0,545.8 C790.0,542.9 785.0,540.2 780.0,537.4 C775.0,534.7 770.0,532.1 765.0,529.5 C760.0,526.9 755.0,524.4 750.0,521.9 C745.0,519.3 740.0,516.7 735.0,514.3 C730.0,511.8 725.0,509.4 720.0,507.0 C715.0,504.6 710.0,502.3 705.0,500.1 C700.0,497.9 695.0,495.7 690.0,493.5 C685.0,491.4 680.0,489.3 675.0,487.3 C670.0,485.3 665.0,483.3 660.0,481.4 C655.0,479.5 650.0,477.7 645.0,475.9 C640.0,474.1 635.0,472.3 630.0,470.7 C625.0,469.1 620.0,467.5 615.0,466.3 C610.0,465.1 605.0,464.2 600.0,463.3 C595.0,462.3 590.0,461.4 585.0,460.6 C580.0,459.7 575.0,459.0 570.0,458.2 C565.0,457.4 560.0,456.6 555.0,455.6 C550.0,454.6 545.0,453.2 540.0,452.1 C535.0,451.0 530.0,449.9 525.0,448.9 C520.0,447.9 515.0,447.0 510.0,446.1 C505.0,445.2 500.0,444.4 495.0,443.6 C490.0,442.8 485.0,442.1 480.0,441.4 C475.0,440.7 470.0,440.1 465.0,439.5 C460.0,438.9 455.0,438.4 450.0,437.9 C445.0,437.4 440.0,437.0 435.0,436.6 C430.0,436.2 425.0,435.9 420.0,435.6 C415.0,435.4 410.0,435.1 405.0,435.0 C400.0,434.8 395.0,434.7 390.0,434.6 C385.0,434.6 380.0,434.5 375.0,434.6 C370.0,434.6 365.0,434.7 360.0,434.9 C355.0,435.1 350.0,435.3 345.0,435.6 C340.0,435.8 335.0,436.2 330.0,436.6 C325.0,436.9 320.0,437.4 315.0,437.9 C310.0,438.4 305.0,439.0 300.0,439.6 C295.0,440.3 290.0,440.9 285.0,441.7 C280.0,442.5 275.0,443.3 270.0,444.2 C265.0,445.0 260.0,446.0 255.0,447.0 C250.0,448.0 245.0,449.1 240.0,450.2 C235.0,451.4 230.0,452.6 225.0,453.9 C220.0,455.1 215.0,456.5 210.0,457.9 C205.0,459.3 200.0,460.8 195.0,462.3 C190.0,463.9 185.0,465.5 180.0,467.2 C175.0,468.9 170.0,470.6 165.0,472.4 C160.0,474.3 155.0,476.1 150.0,478.1 C145.0,480.0 140.0,482.0 135.0,484.0 C130.0,486.1 125.0,488.2 120.0,490.4 C115.0,492.5 110.0,494.7 105.0,497.0 C100.0,499.3 95.0,501.6 90.0,503.9 C85.0,506.3 80.0,508.7 75.0,511.2 C70.0,513.6 65.0,516.1 60.0,518.6 C55.0,521.2 50.0,523.8 45.0,526.4 C40.0,529.0 35.0,531.7 30.0,534.3 C25.0,537.0 20.0,539.8 15.0,542.5 C10.0,545.3 2.5,549.5 0.0,550.9 Z" fill="url(#gS)"/>
<g mask="url(#mSleft)"><path d="M0.0,449.0 C2.5,447.4 10.0,442.3 15.0,439.0 C20.0,435.7 25.0,432.6 30.0,429.5 C35.0,426.4 40.0,423.4 45.0,420.4 C50.0,417.5 55.0,414.6 60.0,411.8 C65.0,409.0 70.0,406.3 75.0,403.7 C80.0,401.0 85.0,398.5 90.0,396.0 C95.0,393.5 100.0,391.1 105.0,388.7 C110.0,386.4 115.0,384.1 120.0,381.9 C125.0,379.7 130.0,377.5 135.0,375.4 C140.0,373.3 145.0,371.3 150.0,369.4 C155.0,367.4 160.0,365.5 165.0,363.7 C170.0,361.9 175.0,360.1 180.0,358.4 C185.0,356.7 190.0,355.0 195.0,353.4 C200.0,351.8 205.0,350.3 210.0,348.8 C215.0,347.3 220.0,345.8 225.0,344.5 C230.0,343.1 235.0,341.7 240.0,340.5 C245.0,339.2 250.0,338.0 255.0,336.8 C260.0,335.6 265.0,334.5 270.0,333.4 C275.0,332.3 280.0,331.2 285.0,330.2 C290.0,329.2 295.0,328.3 300.0,327.4 C305.0,326.4 310.0,325.6 315.0,324.7 C320.0,323.9 325.0,323.1 330.0,322.4 C335.0,321.6 340.0,320.9 345.0,320.2 C350.0,319.5 355.0,318.9 360.0,318.3 C365.0,317.7 370.0,317.1 375.0,316.5 C380.0,316.0 385.0,315.5 390.0,315.0 C395.0,314.6 400.0,314.1 405.0,313.7 C410.0,313.3 415.0,312.9 420.0,312.6 C425.0,312.2 430.0,311.9 435.0,311.6 C440.0,311.3 445.0,311.0 450.0,310.8 C455.0,310.5 460.0,310.3 465.0,310.1 C470.0,309.9 475.0,309.8 480.0,309.6 C485.0,309.5 490.0,309.3 495.0,309.2 C500.0,309.1 505.0,309.1 510.0,309.0 C515.0,308.9 520.0,308.9 525.0,308.9 C530.0,308.8 535.0,308.8 540.0,308.9 C545.0,308.9 550.0,308.9 555.0,308.9 C560.0,309.0 565.0,309.0 570.0,309.1 C575.0,309.2 580.0,309.3 585.0,309.4 C590.0,309.5 595.0,309.6 600.0,309.7 C605.0,309.8 610.0,309.9 615.0,310.1 C620.0,310.2 625.0,310.3 630.0,310.5 C635.0,310.6 640.0,310.8 645.0,311.0 C650.0,311.1 655.0,311.3 660.0,311.5 C665.0,311.7 670.0,311.8 675.0,312.0 C680.0,312.2 685.0,312.4 690.0,312.6 C695.0,312.8 700.0,312.9 705.0,313.1 C710.0,313.3 715.0,313.5 720.0,313.7 C725.0,313.9 730.0,314.0 735.0,314.2 C740.0,314.4 745.0,314.6 750.0,314.7 C755.0,314.9 760.0,315.1 765.0,315.2 C770.0,315.4 775.0,315.5 780.0,315.7 C785.0,315.8 790.0,316.0 795.0,316.1 C800.0,316.2 805.0,316.3 810.0,316.5 C815.0,316.6 820.0,316.7 825.0,316.8 C830.0,316.9 835.0,317.0 840.0,317.1 C845.0,317.2 850.0,317.3 855.0,317.4 C860.0,317.5 865.0,317.6 870.0,317.7 C875.0,317.8 880.0,317.8 885.0,317.9 C890.0,318.0 895.0,318.1 900.0,318.2 C905.0,318.3 910.0,318.3 915.0,318.4 C920.0,318.5 925.0,318.6 930.0,318.6 C935.0,318.7 940.0,318.8 945.0,318.9 C950.0,319.0 955.0,319.0 960.0,319.1 C965.0,319.2 970.0,319.3 975.0,319.4 C980.0,319.4 985.0,319.5 990.0,319.6 C995.0,319.7 1000.0,319.8 1005.0,319.9 C1010.0,320.0 1015.0,320.1 1020.0,320.2 C1025.0,320.3 1030.0,320.4 1035.0,320.5 C1040.0,320.6 1045.0,320.7 1050.0,320.8 C1055.0,320.9 1060.0,321.1 1065.0,321.2 C1070.0,321.3 1075.0,321.4 1080.0,321.6 C1085.0,321.7 1090.0,321.9 1095.0,322.0 C1100.0,322.2 1105.0,322.3 1110.0,322.5 C1115.0,322.7 1120.0,322.9 1125.0,323.0 C1130.0,323.2 1135.0,323.4 1140.0,323.6 C1145.0,323.8 1150.0,324.0 1155.0,324.3 C1160.0,324.5 1165.0,324.7 1170.0,325.0 C1175.0,325.2 1180.0,325.5 1185.0,325.7 C1190.0,326.0 1195.0,326.2 1200.0,326.5 C1205.0,326.8 1210.0,327.1 1215.0,327.4 C1220.0,327.8 1225.0,328.1 1230.0,328.5 C1235.0,328.8 1240.0,329.2 1245.0,329.7 C1250.0,330.1 1255.0,330.6 1260.0,331.2 C1265.0,331.7 1270.0,332.3 1275.0,332.9 C1280.0,333.6 1285.0,334.3 1290.0,335.1 C1295.0,335.9 1300.0,336.7 1305.0,337.7 C1310.0,338.6 1315.0,339.6 1320.0,340.8 C1325.0,341.9 1330.0,343.1 1335.0,344.4 C1340.0,345.7 1345.0,347.1 1350.0,348.6 C1355.0,350.0 1360.0,351.6 1365.0,353.3 C1370.0,355.0 1375.0,356.8 1380.0,358.6 C1385.0,360.5 1390.0,362.5 1395.0,364.6 C1400.0,366.6 1405.0,368.8 1410.0,371.0 C1415.0,373.3 1420.0,375.6 1425.0,377.9 C1430.0,380.2 1435.0,382.6 1440.0,385.0 C1445.0,387.4 1450.0,389.8 1455.0,392.1 C1460.0,394.5 1465.0,396.8 1470.0,399.1 C1475.0,401.3 1480.0,403.5 1485.0,405.6 C1490.0,407.6 1497.5,410.5 1500.0,411.5 L1500,942 L1500.0,941.1 C1497.5,941.0 1490.0,940.8 1485.0,940.5 C1480.0,940.3 1475.0,940.0 1470.0,939.7 C1465.0,939.3 1460.0,939.0 1455.0,938.5 C1450.0,938.0 1445.0,937.5 1440.0,936.9 C1435.0,936.4 1430.0,935.7 1425.0,935.0 C1420.0,934.3 1415.0,933.5 1410.0,932.6 C1405.0,931.7 1400.0,930.8 1395.0,929.7 C1390.0,928.7 1385.0,927.6 1380.0,926.4 C1375.0,925.2 1370.0,923.9 1365.0,922.5 C1360.0,921.1 1355.0,919.6 1350.0,918.0 C1345.0,916.4 1340.0,914.7 1335.0,912.9 C1330.0,911.1 1325.0,909.2 1320.0,907.2 C1315.0,905.1 1310.0,902.9 1305.0,900.7 C1300.0,898.6 1295.0,896.4 1290.0,894.1 C1285.0,891.8 1280.0,889.5 1275.0,887.0 C1270.0,884.5 1265.0,881.9 1260.0,879.3 C1255.0,876.6 1250.0,873.9 1245.0,871.0 C1240.0,868.2 1235.0,865.2 1230.0,862.2 C1225.0,859.2 1220.0,856.1 1215.0,853.0 C1210.0,849.8 1205.0,846.6 1200.0,843.3 C1195.0,840.0 1190.0,836.6 1185.0,833.2 C1180.0,829.9 1175.0,826.5 1170.0,823.2 C1165.0,819.8 1160.0,816.5 1155.0,813.0 C1150.0,809.6 1145.0,806.1 1140.0,802.6 C1135.0,799.1 1130.0,795.6 1125.0,792.0 C1120.0,788.5 1115.0,785.0 1110.0,781.3 C1105.0,777.6 1100.0,773.9 1095.0,769.9 C1090.0,765.9 1085.0,761.6 1080.0,757.4 C1075.0,753.3 1070.0,749.1 1065.0,744.9 C1060.0,740.7 1055.0,736.5 1050.0,732.3 C1045.0,728.1 1040.0,723.9 1035.0,719.7 C1030.0,715.5 1025.0,711.3 1020.0,707.1 C1015.0,703.0 1010.0,698.7 1005.0,694.6 C1000.0,690.5 995.0,686.5 990.0,682.5 C985.0,678.5 980.0,674.6 975.0,670.7 C970.0,666.8 965.0,662.9 960.0,659.0 C955.0,655.1 950.0,651.2 945.0,647.4 C940.0,643.5 935.0,639.7 930.0,635.9 C925.0,632.1 920.0,628.3 915.0,624.6 C910.0,620.8 905.0,617.1 900.0,613.5 C895.0,609.8 890.0,606.1 885.0,602.5 C880.0,599.0 875.0,595.6 870.0,592.2 C865.0,588.9 860.0,585.6 855.0,582.4 C850.0,579.1 845.0,575.9 840.0,572.7 C835.0,569.6 830.0,566.5 825.0,563.4 C820.0,560.4 815.0,557.4 810.0,554.4 C805.0,551.5 800.0,548.6 795.0,545.8 C790.0,542.9 785.0,540.2 780.0,537.4 C775.0,534.7 770.0,532.1 765.0,529.5 C760.0,526.9 755.0,524.4 750.0,521.9 C745.0,519.3 740.0,516.7 735.0,514.3 C730.0,511.8 725.0,509.4 720.0,507.0 C715.0,504.6 710.0,502.3 705.0,500.1 C700.0,497.9 695.0,495.7 690.0,493.5 C685.0,491.4 680.0,489.3 675.0,487.3 C670.0,485.3 665.0,483.3 660.0,481.4 C655.0,479.5 650.0,477.7 645.0,475.9 C640.0,474.1 635.0,472.3 630.0,470.7 C625.0,469.1 620.0,467.5 615.0,466.3 C610.0,465.1 605.0,464.2 600.0,463.3 C595.0,462.3 590.0,461.4 585.0,460.6 C580.0,459.7 575.0,459.0 570.0,458.2 C565.0,457.4 560.0,456.6 555.0,455.6 C550.0,454.6 545.0,453.2 540.0,452.1 C535.0,451.0 530.0,449.9 525.0,448.9 C520.0,447.9 515.0,447.0 510.0,446.1 C505.0,445.2 500.0,444.4 495.0,443.6 C490.0,442.8 485.0,442.1 480.0,441.4 C475.0,440.7 470.0,440.1 465.0,439.5 C460.0,438.9 455.0,438.4 450.0,437.9 C445.0,437.4 440.0,437.0 435.0,436.6 C430.0,436.2 425.0,435.9 420.0,435.6 C415.0,435.4 410.0,435.1 405.0,435.0 C400.0,434.8 395.0,434.7 390.0,434.6 C385.0,434.6 380.0,434.5 375.0,434.6 C370.0,434.6 365.0,434.7 360.0,434.9 C355.0,435.1 350.0,435.3 345.0,435.6 C340.0,435.8 335.0,436.2 330.0,436.6 C325.0,436.9 320.0,437.4 315.0,437.9 C310.0,438.4 305.0,439.0 300.0,439.6 C295.0,440.3 290.0,440.9 285.0,441.7 C280.0,442.5 275.0,443.3 270.0,444.2 C265.0,445.0 260.0,446.0 255.0,447.0 C250.0,448.0 245.0,449.1 240.0,450.2 C235.0,451.4 230.0,452.6 225.0,453.9 C220.0,455.1 215.0,456.5 210.0,457.9 C205.0,459.3 200.0,460.8 195.0,462.3 C190.0,463.9 185.0,465.5 180.0,467.2 C175.0,468.9 170.0,470.6 165.0,472.4 C160.0,474.3 155.0,476.1 150.0,478.1 C145.0,480.0 140.0,482.0 135.0,484.0 C130.0,486.1 125.0,488.2 120.0,490.4 C115.0,492.5 110.0,494.7 105.0,497.0 C100.0,499.3 95.0,501.6 90.0,503.9 C85.0,506.3 80.0,508.7 75.0,511.2 C70.0,513.6 65.0,516.1 60.0,518.6 C55.0,521.2 50.0,523.8 45.0,526.4 C40.0,529.0 35.0,531.7 30.0,534.3 C25.0,537.0 20.0,539.8 15.0,542.5 C10.0,545.3 2.5,549.5 0.0,550.9 Z" fill="url(#gS)" filter="url(#tx2)"/></g>
<path d="M0.0,649.6 C2.0,648.7 8.0,646.0 12.0,644.1 C16.0,642.3 20.0,640.4 24.0,638.5 C28.0,636.7 32.0,634.8 36.0,632.9 C40.0,631.0 44.0,629.1 48.0,627.2 C52.0,625.3 56.0,623.4 60.0,621.5 C64.0,619.6 68.0,617.7 72.0,615.9 C76.0,614.1 80.0,612.2 84.0,610.4 C88.0,608.7 92.0,606.9 96.0,605.2 C100.0,603.5 104.0,601.9 108.0,600.2 C112.0,598.6 116.0,597.1 120.0,595.6 C124.0,594.1 128.0,592.7 132.0,591.3 C136.0,589.9 140.0,588.5 144.0,587.2 C148.0,585.9 152.0,584.7 156.0,583.5 C160.0,582.3 164.0,581.1 168.0,580.0 C172.0,578.9 176.0,577.8 180.0,576.8 C184.0,575.8 188.0,574.8 192.0,573.9 C196.0,573.0 200.0,572.1 204.0,571.2 C208.0,570.4 212.0,569.6 216.0,568.8 C220.0,568.0 224.0,567.3 228.0,566.6 C232.0,565.9 236.0,565.2 240.0,564.6 C244.0,563.9 248.0,563.3 252.0,562.7 C256.0,562.2 260.0,561.6 264.0,561.1 C268.0,560.6 272.0,560.1 276.0,559.6 C280.0,559.1 284.0,558.6 288.0,558.2 C292.0,557.8 296.0,557.4 300.0,557.0 C304.0,556.6 308.0,556.2 312.0,555.8 C316.0,555.4 320.0,555.1 324.0,554.7 C328.0,554.4 332.0,554.1 336.0,553.7 C340.0,553.4 344.0,553.1 348.0,552.8 C352.0,552.5 356.0,552.2 360.0,551.9 C364.0,551.6 368.0,551.3 372.0,551.0 C376.0,550.7 380.0,550.4 384.0,550.1 C388.0,549.8 392.0,549.4 396.0,549.1 C400.0,548.8 404.0,548.5 408.0,548.2 C412.0,547.9 416.0,547.5 420.0,547.2 C424.0,546.9 428.0,546.6 432.0,546.2 C436.0,545.9 440.0,545.6 444.0,545.2 C448.0,544.9 452.0,544.6 456.0,544.3 C460.0,543.9 464.0,543.6 468.0,543.3 C472.0,543.0 476.0,542.6 480.0,542.3 C484.0,542.0 488.0,541.7 492.0,541.3 C496.0,541.0 500.0,540.7 504.0,540.4 C508.0,540.1 512.0,539.8 516.0,539.5 C520.0,539.2 524.0,538.9 528.0,538.6 C532.0,538.3 536.0,538.0 540.0,537.8 C544.0,537.5 548.0,537.2 552.0,536.9 C556.0,536.7 560.0,536.4 564.0,536.2 C568.0,535.9 572.0,535.7 576.0,535.5 C580.0,535.2 584.0,535.0 588.0,534.8 C592.0,534.6 596.0,534.4 600.0,534.2 C604.0,534.0 608.0,533.8 612.0,533.7 C616.0,533.5 620.0,533.3 624.0,533.2 C628.0,533.0 632.0,532.9 636.0,532.8 C640.0,532.7 644.0,532.6 648.0,532.6 C652.0,532.5 656.0,532.5 660.0,532.5 C664.0,532.5 668.0,532.5 672.0,532.6 C676.0,532.7 680.0,532.8 684.0,533.0 C688.0,533.2 692.0,533.4 696.0,533.7 C700.0,534.0 704.0,534.4 708.0,534.8 C712.0,535.2 716.0,535.7 720.0,536.2 C724.0,536.8 728.0,537.4 732.0,538.1 C736.0,538.8 740.0,539.6 744.0,540.4 C748.0,541.3 752.0,542.3 756.0,543.3 C760.0,544.4 764.0,545.5 768.0,546.7 C772.0,548.0 776.0,549.3 780.0,550.8 C784.0,552.2 790.0,554.7 792.0,555.4 L792.0,557.7 C792.5,558.0 792.0,557.7 795.0,559.5 C798.0,561.3 805.0,565.6 810.0,568.7 C815.0,571.9 820.0,575.1 825.0,578.3 C830.0,581.6 835.0,584.9 840.0,588.2 C845.0,591.6 850.0,595.0 855.0,598.4 C860.0,601.8 865.0,605.3 870.0,608.8 C875.0,612.4 880.0,615.9 885.0,619.5 C890.0,623.1 895.0,626.8 900.0,630.5 C905.0,634.1 910.0,637.8 915.0,641.6 C920.0,645.3 925.0,649.1 930.0,652.9 C935.0,656.7 940.0,660.5 945.0,664.4 C950.0,668.2 955.0,672.1 960.0,676.0 C965.0,679.9 970.0,683.8 975.0,687.7 C980.0,691.6 985.0,695.6 990.0,699.5 C995.0,703.5 1000.0,707.4 1005.0,711.4 C1010.0,715.4 1015.0,719.4 1020.0,723.3 C1025.0,727.3 1030.0,731.3 1035.0,735.3 C1040.0,739.3 1045.0,743.3 1050.0,747.3 C1055.0,751.3 1060.0,755.3 1065.0,759.3 C1070.0,763.3 1075.0,767.3 1080.0,771.2 C1085.0,775.2 1090.0,779.2 1095.0,783.1 C1100.0,787.1 1105.0,791.0 1110.0,794.9 C1115.0,798.8 1120.0,802.7 1125.0,806.6 C1130.0,810.5 1135.0,814.3 1140.0,818.1 C1145.0,822.0 1150.0,825.7 1155.0,829.5 C1160.0,833.2 1165.0,836.9 1170.0,840.6 C1175.0,844.2 1180.0,847.8 1185.0,851.3 C1190.0,854.9 1195.0,858.4 1200.0,861.8 C1205.0,865.2 1210.0,868.6 1215.0,871.9 C1220.0,875.1 1225.0,878.4 1230.0,881.5 C1235.0,884.6 1240.0,887.7 1245.0,890.6 C1250.0,893.6 1255.0,896.5 1260.0,899.3 C1265.0,902.1 1270.0,904.8 1275.0,907.4 C1280.0,910.0 1285.0,912.5 1290.0,914.8 C1295.0,917.2 1300.0,919.5 1305.0,921.6 C1310.0,923.8 1315.0,925.8 1320.0,927.8 C1325.0,929.7 1330.0,931.5 1335.0,933.2 C1340.0,934.9 1345.0,936.5 1350.0,938.0 C1355.0,939.5 1360.0,940.9 1365.0,942.2 C1370.0,943.5 1375.0,944.7 1380.0,945.8 C1385.0,946.9 1390.0,947.9 1395.0,948.8 C1400.0,949.8 1405.0,950.6 1410.0,951.4 C1415.0,952.2 1420.0,952.9 1425.0,953.5 C1430.0,954.1 1435.0,954.7 1440.0,955.1 C1445.0,955.6 1450.0,956.0 1455.0,956.4 C1460.0,956.8 1465.0,957.0 1470.0,957.3 C1475.0,957.5 1480.0,957.7 1485.0,957.8 C1490.0,958.0 1497.5,958.1 1500.0,958.1 L1500,1178 L1500.0,1178.4 C1497.5,1177.9 1490.0,1176.3 1485.0,1175.2 C1480.0,1174.1 1475.0,1173.0 1470.0,1171.9 C1465.0,1170.8 1460.0,1169.6 1455.0,1168.5 C1450.0,1167.3 1445.0,1166.2 1440.0,1165.0 C1435.0,1163.8 1430.0,1162.6 1425.0,1161.4 C1420.0,1160.2 1415.0,1158.9 1410.0,1157.7 C1405.0,1156.4 1400.0,1155.1 1395.0,1153.8 C1390.0,1152.5 1385.0,1151.2 1380.0,1149.8 C1375.0,1148.5 1370.0,1147.1 1365.0,1145.7 C1360.0,1144.3 1355.0,1142.8 1350.0,1141.3 C1345.0,1139.9 1340.0,1138.4 1335.0,1136.9 C1330.0,1135.3 1325.0,1133.8 1320.0,1132.2 C1315.0,1130.6 1310.0,1129.0 1305.0,1127.3 C1300.0,1125.6 1295.0,1123.9 1290.0,1122.2 C1285.0,1120.5 1280.0,1118.7 1275.0,1116.9 C1270.0,1115.1 1265.0,1113.2 1260.0,1111.3 C1255.0,1109.4 1250.0,1107.5 1245.0,1105.5 C1240.0,1103.5 1235.0,1101.5 1230.0,1099.5 C1225.0,1097.4 1220.0,1095.3 1215.0,1093.1 C1210.0,1091.0 1205.0,1088.8 1200.0,1086.5 C1195.0,1084.3 1190.0,1082.0 1185.0,1079.6 C1180.0,1077.3 1175.0,1074.9 1170.0,1072.4 C1165.0,1070.0 1160.0,1067.5 1155.0,1064.9 C1150.0,1062.3 1145.0,1059.7 1140.0,1057.0 C1135.0,1054.4 1130.0,1051.6 1125.0,1048.9 C1120.0,1046.1 1115.0,1043.2 1110.0,1040.3 C1105.0,1037.4 1100.0,1034.4 1095.0,1031.4 C1090.0,1028.4 1085.0,1025.3 1080.0,1022.1 C1075.0,1019.0 1070.0,1015.8 1065.0,1012.5 C1060.0,1009.2 1055.0,1005.8 1050.0,1002.4 C1045.0,999.0 1040.0,995.5 1035.0,992.0 C1030.0,988.4 1025.0,984.8 1020.0,981.1 C1015.0,977.4 1010.0,973.7 1005.0,969.9 C1000.0,966.1 995.0,962.2 990.0,958.3 C985.0,954.4 980.0,950.4 975.0,946.4 C970.0,942.4 965.0,938.4 960.0,934.3 C955.0,930.2 950.0,926.0 945.0,921.9 C940.0,917.7 935.0,913.5 930.0,909.3 C925.0,905.1 920.0,900.8 915.0,896.6 C910.0,892.3 905.0,888.0 900.0,883.7 C895.0,879.4 890.0,875.1 885.0,870.9 C880.0,866.6 875.0,862.3 870.0,858.1 C865.0,853.8 860.0,849.6 855.0,845.4 C850.0,841.2 845.0,837.1 840.0,833.0 C835.0,828.8 830.0,824.7 825.0,820.7 C820.0,816.6 815.0,812.6 810.0,808.6 C805.0,804.7 800.0,800.7 795.0,796.8 C790.0,792.9 785.0,789.0 780.0,785.2 C775.0,781.4 770.0,777.6 765.0,773.9 C760.0,770.2 755.0,766.5 750.0,762.8 C745.0,759.2 740.0,755.6 735.0,752.1 C730.0,748.6 725.0,745.1 720.0,741.6 C715.0,738.2 710.0,734.8 705.0,731.5 C700.0,728.2 695.0,725.0 690.0,721.8 C685.0,718.6 680.0,715.4 675.0,712.4 C670.0,709.3 665.0,706.3 660.0,703.4 C655.0,700.4 650.0,697.5 645.0,694.7 C640.0,691.9 635.0,689.2 630.0,686.5 C625.0,683.9 620.0,681.3 615.0,678.8 C610.0,676.3 605.0,673.8 600.0,671.5 C595.0,669.1 590.0,666.8 585.0,664.6 C580.0,662.4 575.0,660.3 570.0,658.3 C565.0,656.2 560.0,654.3 555.0,652.4 C550.0,650.6 545.0,648.8 540.0,647.1 C535.0,645.4 530.0,643.8 525.0,642.2 C520.0,640.7 515.0,639.2 510.0,637.8 C505.0,636.4 500.0,635.1 495.0,633.8 C490.0,632.6 485.0,631.4 480.0,630.3 C475.0,629.2 470.0,628.1 465.0,627.1 C460.0,626.2 455.0,625.2 450.0,624.4 C445.0,623.5 440.0,622.7 435.0,622.0 C430.0,621.2 425.0,620.6 420.0,619.9 C415.0,619.3 410.0,618.8 405.0,618.3 C400.0,617.8 395.0,617.3 390.0,616.9 C385.0,616.6 380.0,616.2 375.0,616.0 C370.0,615.7 365.0,615.5 360.0,615.4 C355.0,615.3 350.0,615.2 345.0,615.2 C340.0,615.2 335.0,615.3 330.0,615.5 C325.0,615.6 320.0,615.9 315.0,616.2 C310.0,616.5 305.0,616.9 300.0,617.4 C295.0,617.9 290.0,618.5 285.0,619.2 C280.0,619.9 273.8,609.7 270.0,621.5 C266.2,633.3 264.5,666.9 262.0,690.0 C259.5,713.1 256.2,748.3 255.0,760.0 L255.0,759.0 C252.5,759.3 245.0,760.0 240.0,760.5 C235.0,761.1 230.0,761.7 225.0,762.4 C220.0,763.0 215.0,763.7 210.0,764.5 C205.0,765.2 200.0,766.1 195.0,767.0 C190.0,767.9 185.0,768.8 180.0,769.8 C175.0,770.9 170.0,772.0 165.0,773.1 C160.0,774.3 155.0,775.6 150.0,776.9 C145.0,778.2 140.0,779.7 135.0,781.2 C130.0,782.7 125.0,784.3 120.0,786.0 C115.0,787.7 110.0,789.4 105.0,791.3 C100.0,793.2 95.0,795.2 90.0,797.3 C85.0,799.4 80.0,801.6 75.0,803.9 C70.0,806.2 65.0,808.7 60.0,811.2 C55.0,813.8 50.0,816.5 45.0,819.2 C40.0,822.0 35.0,825.0 30.0,828.0 C25.0,831.1 20.0,834.3 15.0,837.6 C10.0,840.9 2.5,846.2 0.0,848.0 Z" fill="url(#gFoam)" filter="url(#tx1b)"/>
<path d="M0.0,649.6 C2.0,648.7 8.0,646.0 12.0,644.1 C16.0,642.3 20.0,640.4 24.0,638.5 C28.0,636.7 32.0,634.8 36.0,632.9 C40.0,631.0 44.0,629.1 48.0,627.2 C52.0,625.3 56.0,623.4 60.0,621.5 C64.0,619.6 68.0,617.7 72.0,615.9 C76.0,614.1 80.0,612.2 84.0,610.4 C88.0,608.7 92.0,606.9 96.0,605.2 C100.0,603.5 104.0,601.9 108.0,600.2 C112.0,598.6 116.0,597.1 120.0,595.6 C124.0,594.1 128.0,592.7 132.0,591.3 C136.0,589.9 140.0,588.5 144.0,587.2 C148.0,585.9 152.0,584.7 156.0,583.5 C160.0,582.3 164.0,581.1 168.0,580.0 C172.0,578.9 176.0,577.8 180.0,576.8 C184.0,575.8 188.0,574.8 192.0,573.9 C196.0,573.0 200.0,572.1 204.0,571.2 C208.0,570.4 212.0,569.6 216.0,568.8 C220.0,568.0 224.0,567.3 228.0,566.6 C232.0,565.9 236.0,565.2 240.0,564.6 C244.0,563.9 248.0,563.3 252.0,562.7 C256.0,562.2 260.0,561.6 264.0,561.1 C268.0,560.6 272.0,560.1 276.0,559.6 C280.0,559.1 284.0,558.6 288.0,558.2 C292.0,557.8 296.0,557.4 300.0,557.0 C304.0,556.6 308.0,556.2 312.0,555.8 C316.0,555.4 320.0,555.1 324.0,554.7 C328.0,554.4 332.0,554.1 336.0,553.7 C340.0,553.4 344.0,553.1 348.0,552.8 C352.0,552.5 356.0,552.2 360.0,551.9 C364.0,551.6 368.0,551.3 372.0,551.0 C376.0,550.7 380.0,550.4 384.0,550.1 C388.0,549.8 392.0,549.4 396.0,549.1 C400.0,548.8 404.0,548.5 408.0,548.2 C412.0,547.9 416.0,547.5 420.0,547.2 C424.0,546.9 428.0,546.6 432.0,546.2 C436.0,545.9 440.0,545.6 444.0,545.2 C448.0,544.9 452.0,544.6 456.0,544.3 C460.0,543.9 464.0,543.6 468.0,543.3 C472.0,543.0 476.0,542.6 480.0,542.3 C484.0,542.0 488.0,541.7 492.0,541.3 C496.0,541.0 500.0,540.7 504.0,540.4 C508.0,540.1 512.0,539.8 516.0,539.5 C520.0,539.2 524.0,538.9 528.0,538.6 C532.0,538.3 536.0,538.0 540.0,537.8 C544.0,537.5 548.0,537.2 552.0,536.9 C556.0,536.7 560.0,536.4 564.0,536.2 C568.0,535.9 572.0,535.7 576.0,535.5 C580.0,535.2 584.0,535.0 588.0,534.8 C592.0,534.6 596.0,534.4 600.0,534.2 C604.0,534.0 608.0,533.8 612.0,533.7 C616.0,533.5 620.0,533.3 624.0,533.2 C628.0,533.0 632.0,532.9 636.0,532.8 C640.0,532.7 644.0,532.6 648.0,532.6 C652.0,532.5 656.0,532.5 660.0,532.5 C664.0,532.5 668.0,532.5 672.0,532.6 C676.0,532.7 680.0,532.8 684.0,533.0 C688.0,533.2 692.0,533.4 696.0,533.7 C700.0,534.0 704.0,534.4 708.0,534.8 C712.0,535.2 716.0,535.7 720.0,536.2 C724.0,536.8 728.0,537.4 732.0,538.1 C736.0,538.8 740.0,539.6 744.0,540.4 C748.0,541.3 752.0,542.3 756.0,543.3 C760.0,544.4 764.0,545.5 768.0,546.7 C772.0,548.0 776.0,549.3 780.0,550.8 C784.0,552.2 790.0,554.7 792.0,555.4 L792.0,557.7 C792.5,558.0 792.0,557.7 795.0,559.5 C798.0,561.3 805.0,565.6 810.0,568.7 C815.0,571.9 820.0,575.1 825.0,578.3 C830.0,581.6 835.0,584.9 840.0,588.2 C845.0,591.6 850.0,595.0 855.0,598.4 C860.0,601.8 865.0,605.3 870.0,608.8 C875.0,612.4 880.0,615.9 885.0,619.5 C890.0,623.1 895.0,626.8 900.0,630.5 C905.0,634.1 910.0,637.8 915.0,641.6 C920.0,645.3 925.0,649.1 930.0,652.9 C935.0,656.7 940.0,660.5 945.0,664.4 C950.0,668.2 955.0,672.1 960.0,676.0 C965.0,679.9 970.0,683.8 975.0,687.7 C980.0,691.6 985.0,695.6 990.0,699.5 C995.0,703.5 1000.0,707.4 1005.0,711.4 C1010.0,715.4 1015.0,719.4 1020.0,723.3 C1025.0,727.3 1030.0,731.3 1035.0,735.3 C1040.0,739.3 1045.0,743.3 1050.0,747.3 C1055.0,751.3 1060.0,755.3 1065.0,759.3 C1070.0,763.3 1075.0,767.3 1080.0,771.2 C1085.0,775.2 1090.0,779.2 1095.0,783.1 C1100.0,787.1 1105.0,791.0 1110.0,794.9 C1115.0,798.8 1120.0,802.7 1125.0,806.6 C1130.0,810.5 1135.0,814.3 1140.0,818.1 C1145.0,822.0 1150.0,825.7 1155.0,829.5 C1160.0,833.2 1165.0,836.9 1170.0,840.6 C1175.0,844.2 1180.0,847.8 1185.0,851.3 C1190.0,854.9 1195.0,858.4 1200.0,861.8 C1205.0,865.2 1210.0,868.6 1215.0,871.9 C1220.0,875.1 1225.0,878.4 1230.0,881.5 C1235.0,884.6 1240.0,887.7 1245.0,890.6 C1250.0,893.6 1255.0,896.5 1260.0,899.3 C1265.0,902.1 1270.0,904.8 1275.0,907.4 C1280.0,910.0 1285.0,912.5 1290.0,914.8 C1295.0,917.2 1300.0,919.5 1305.0,921.6 C1310.0,923.8 1315.0,925.8 1320.0,927.8 C1325.0,929.7 1330.0,931.5 1335.0,933.2 C1340.0,934.9 1345.0,936.5 1350.0,938.0 C1355.0,939.5 1360.0,940.9 1365.0,942.2 C1370.0,943.5 1375.0,944.7 1380.0,945.8 C1385.0,946.9 1390.0,947.9 1395.0,948.8 C1400.0,949.8 1405.0,950.6 1410.0,951.4 C1415.0,952.2 1420.0,952.9 1425.0,953.5 C1430.0,954.1 1435.0,954.7 1440.0,955.1 C1445.0,955.6 1450.0,956.0 1455.0,956.4 C1460.0,956.8 1465.0,957.0 1470.0,957.3 C1475.0,957.5 1480.0,957.7 1485.0,957.8 C1490.0,958.0 1497.5,958.1 1500.0,958.1 L1500,1178 L1500.0,1178.4 C1497.5,1177.9 1490.0,1176.3 1485.0,1175.2 C1480.0,1174.1 1475.0,1173.0 1470.0,1171.9 C1465.0,1170.8 1460.0,1169.6 1455.0,1168.5 C1450.0,1167.3 1445.0,1166.2 1440.0,1165.0 C1435.0,1163.8 1430.0,1162.6 1425.0,1161.4 C1420.0,1160.2 1415.0,1158.9 1410.0,1157.7 C1405.0,1156.4 1400.0,1155.1 1395.0,1153.8 C1390.0,1152.5 1385.0,1151.2 1380.0,1149.8 C1375.0,1148.5 1370.0,1147.1 1365.0,1145.7 C1360.0,1144.3 1355.0,1142.8 1350.0,1141.3 C1345.0,1139.9 1340.0,1138.4 1335.0,1136.9 C1330.0,1135.3 1325.0,1133.8 1320.0,1132.2 C1315.0,1130.6 1310.0,1129.0 1305.0,1127.3 C1300.0,1125.6 1295.0,1123.9 1290.0,1122.2 C1285.0,1120.5 1280.0,1118.7 1275.0,1116.9 C1270.0,1115.1 1265.0,1113.2 1260.0,1111.3 C1255.0,1109.4 1250.0,1107.5 1245.0,1105.5 C1240.0,1103.5 1235.0,1101.5 1230.0,1099.5 C1225.0,1097.4 1220.0,1095.3 1215.0,1093.1 C1210.0,1091.0 1205.0,1088.8 1200.0,1086.5 C1195.0,1084.3 1190.0,1082.0 1185.0,1079.6 C1180.0,1077.3 1175.0,1074.9 1170.0,1072.4 C1165.0,1070.0 1160.0,1067.5 1155.0,1064.9 C1150.0,1062.3 1145.0,1059.7 1140.0,1057.0 C1135.0,1054.4 1130.0,1051.6 1125.0,1048.9 C1120.0,1046.1 1115.0,1043.2 1110.0,1040.3 C1105.0,1037.4 1100.0,1034.4 1095.0,1031.4 C1090.0,1028.4 1085.0,1025.3 1080.0,1022.1 C1075.0,1019.0 1070.0,1015.8 1065.0,1012.5 C1060.0,1009.2 1055.0,1005.8 1050.0,1002.4 C1045.0,999.0 1040.0,995.5 1035.0,992.0 C1030.0,988.4 1025.0,984.8 1020.0,981.1 C1015.0,977.4 1010.0,973.7 1005.0,969.9 C1000.0,966.1 995.0,962.2 990.0,958.3 C985.0,954.4 980.0,950.4 975.0,946.4 C970.0,942.4 965.0,938.4 960.0,934.3 C955.0,930.2 950.0,926.0 945.0,921.9 C940.0,917.7 935.0,913.5 930.0,909.3 C925.0,905.1 920.0,900.8 915.0,896.6 C910.0,892.3 905.0,888.0 900.0,883.7 C895.0,879.4 890.0,875.1 885.0,870.9 C880.0,866.6 875.0,862.3 870.0,858.1 C865.0,853.8 860.0,849.6 855.0,845.4 C850.0,841.2 845.0,837.1 840.0,833.0 C835.0,828.8 830.0,824.7 825.0,820.7 C820.0,816.6 815.0,812.6 810.0,808.6 C805.0,804.7 800.0,800.7 795.0,796.8 C790.0,792.9 785.0,789.0 780.0,785.2 C775.0,781.4 770.0,777.6 765.0,773.9 C760.0,770.2 755.0,766.5 750.0,762.8 C745.0,759.2 740.0,755.6 735.0,752.1 C730.0,748.6 725.0,745.1 720.0,741.6 C715.0,738.2 710.0,734.8 705.0,731.5 C700.0,728.2 695.0,725.0 690.0,721.8 C685.0,718.6 680.0,715.4 675.0,712.4 C670.0,709.3 665.0,706.3 660.0,703.4 C655.0,700.4 650.0,697.5 645.0,694.7 C640.0,691.9 635.0,689.2 630.0,686.5 C625.0,683.9 620.0,681.3 615.0,678.8 C610.0,676.3 605.0,673.8 600.0,671.5 C595.0,669.1 590.0,666.8 585.0,664.6 C580.0,662.4 575.0,660.3 570.0,658.3 C565.0,656.2 560.0,654.3 555.0,652.4 C550.0,650.6 545.0,648.8 540.0,647.1 C535.0,645.4 530.0,643.8 525.0,642.2 C520.0,640.7 515.0,639.2 510.0,637.8 C505.0,636.4 500.0,635.1 495.0,633.8 C490.0,632.6 485.0,631.4 480.0,630.3 C475.0,629.2 470.0,628.1 465.0,627.1 C460.0,626.2 455.0,625.2 450.0,624.4 C445.0,623.5 440.0,622.7 435.0,622.0 C430.0,621.2 425.0,620.6 420.0,619.9 C415.0,619.3 410.0,618.8 405.0,618.3 C400.0,617.8 395.0,617.3 390.0,616.9 C385.0,616.6 380.0,616.2 375.0,616.0 C370.0,615.7 365.0,615.5 360.0,615.4 C355.0,615.3 350.0,615.2 345.0,615.2 C340.0,615.2 335.0,615.3 330.0,615.5 C325.0,615.6 320.0,615.9 315.0,616.2 C310.0,616.5 305.0,616.9 300.0,617.4 C295.0,617.9 290.0,618.5 285.0,619.2 C280.0,619.9 273.8,609.7 270.0,621.5 C266.2,633.3 264.5,666.9 262.0,690.0 C259.5,713.1 256.2,748.3 255.0,760.0 L255.0,759.0 C252.5,759.3 245.0,760.0 240.0,760.5 C235.0,761.1 230.0,761.7 225.0,762.4 C220.0,763.0 215.0,763.7 210.0,764.5 C205.0,765.2 200.0,766.1 195.0,767.0 C190.0,767.9 185.0,768.8 180.0,769.8 C175.0,770.9 170.0,772.0 165.0,773.1 C160.0,774.3 155.0,775.6 150.0,776.9 C145.0,778.2 140.0,779.7 135.0,781.2 C130.0,782.7 125.0,784.3 120.0,786.0 C115.0,787.7 110.0,789.4 105.0,791.3 C100.0,793.2 95.0,795.2 90.0,797.3 C85.0,799.4 80.0,801.6 75.0,803.9 C70.0,806.2 65.0,808.7 60.0,811.2 C55.0,813.8 50.0,816.5 45.0,819.2 C40.0,822.0 35.0,825.0 30.0,828.0 C25.0,831.1 20.0,834.3 15.0,837.6 C10.0,840.9 2.5,846.2 0.0,848.0 Z" fill="url(#gFoamShade)" mask="url(#mShade)"/>
<path d="M279.0,559.2 C280.5,559.1 284.5,558.6 288.0,558.2 C291.5,557.8 296.0,557.4 300.0,557.0 C304.0,556.6 308.0,556.2 312.0,555.8 C316.0,555.4 320.0,555.1 324.0,554.7 C328.0,554.4 332.0,554.1 336.0,553.7 C340.0,553.4 344.0,553.1 348.0,552.8 C352.0,552.5 356.0,552.2 360.0,551.9 C364.0,551.6 368.0,551.3 372.0,551.0 C376.0,550.7 380.0,550.4 384.0,550.1 C388.0,549.8 392.0,549.4 396.0,549.1 C400.0,548.8 404.0,548.5 408.0,548.2 C412.0,547.9 416.3,547.5 420.0,547.2 C423.7,546.9 428.3,546.5 430.0,546.4 L430.0,534.7 C432.5,535.9 440.0,539.8 445.1,542.1 C450.1,544.4 455.1,546.4 460.1,548.2 C465.2,550.1 470.2,551.7 475.2,553.3 C480.2,554.8 485.3,556.2 490.3,557.5 C495.3,558.8 500.3,560.0 505.4,561.2 C510.4,562.4 515.4,563.4 520.4,564.5 C525.4,565.6 530.5,566.6 535.5,567.7 C540.5,568.8 545.5,569.9 550.6,571.0 C555.6,572.2 560.6,573.4 565.6,574.7 C570.7,576.0 575.7,577.4 580.7,579.0 C585.7,580.5 590.8,582.1 595.8,583.9 C600.8,585.6 605.8,587.5 610.8,589.5 C615.9,591.5 620.9,593.6 625.9,595.9 C630.9,598.1 636.0,600.5 641.0,603.0 C646.0,605.5 651.0,608.2 656.1,610.9 C661.1,613.6 666.1,616.4 671.1,619.3 C676.2,622.2 681.2,625.2 686.2,628.3 C691.2,631.3 696.2,634.5 701.3,637.7 C706.3,640.9 711.3,644.1 716.3,647.5 C721.4,650.8 726.4,654.2 731.4,657.7 C736.4,661.1 741.5,664.7 746.5,668.2 C751.5,671.8 756.5,675.5 761.5,679.1 C766.6,682.8 771.6,686.6 776.6,690.4 C781.6,694.1 786.7,698.0 791.7,701.8 C796.7,705.7 801.7,709.6 806.8,713.6 C811.8,717.5 816.8,721.5 821.8,725.5 C826.9,729.5 831.9,733.6 836.9,737.6 C841.9,741.7 846.9,745.8 852.0,749.9 C857.0,754.0 862.0,758.2 867.0,762.3 C872.1,766.5 877.1,770.7 882.1,774.9 C887.1,779.1 892.2,783.3 897.2,787.5 C902.2,791.8 907.2,796.1 912.3,800.4 C917.3,804.7 922.3,809.0 927.3,813.4 C932.3,817.7 937.4,822.1 942.4,826.5 C947.4,830.9 952.4,835.3 957.5,839.7 C962.5,844.1 967.5,848.5 972.5,852.9 C977.6,857.3 982.6,861.7 987.6,866.1 C992.6,870.5 997.7,874.9 1002.7,879.2 C1007.7,883.6 1012.7,887.9 1017.7,892.2 C1022.8,896.5 1027.8,900.7 1032.8,904.9 C1037.8,909.1 1042.9,913.3 1047.9,917.4 C1052.9,921.4 1057.9,925.5 1063.0,929.4 C1068.0,933.3 1073.0,937.2 1078.0,940.9 C1083.1,944.7 1088.1,948.4 1093.1,952.0 C1098.1,955.6 1103.1,959.0 1108.2,962.5 C1113.2,965.9 1118.2,969.2 1123.2,972.4 C1128.3,975.7 1133.3,978.8 1138.3,981.9 C1143.3,984.9 1148.4,987.9 1153.4,990.8 C1158.4,993.7 1163.4,996.5 1168.5,999.2 C1173.5,1002.0 1178.5,1004.6 1183.5,1007.2 C1188.5,1009.8 1193.6,1012.3 1198.6,1014.7 C1203.6,1017.1 1208.6,1019.4 1213.7,1021.7 C1218.7,1023.9 1223.7,1026.1 1228.7,1028.2 C1233.8,1030.3 1238.8,1032.4 1243.8,1034.3 C1248.8,1036.3 1253.8,1038.2 1258.9,1040.0 C1263.9,1041.8 1268.9,1043.6 1273.9,1045.2 C1279.0,1046.9 1284.0,1048.5 1289.0,1050.1 C1294.0,1051.6 1299.1,1053.1 1304.1,1054.5 C1309.1,1055.9 1314.1,1057.2 1319.2,1058.5 C1324.2,1059.8 1329.2,1061.0 1334.2,1062.1 C1339.2,1063.3 1344.3,1064.3 1349.3,1065.4 C1354.3,1066.4 1359.3,1067.4 1364.4,1068.3 C1369.4,1069.2 1374.4,1070.0 1379.4,1070.8 C1384.5,1071.6 1389.5,1072.3 1394.5,1073.0 C1399.5,1073.6 1404.6,1074.2 1409.6,1074.8 C1414.6,1075.4 1419.6,1075.9 1424.6,1076.3 C1429.7,1076.8 1434.7,1077.2 1439.7,1077.5 C1444.7,1077.9 1449.8,1078.2 1454.8,1078.4 C1459.8,1078.7 1464.8,1078.9 1469.9,1079.0 C1474.9,1079.2 1479.9,1079.3 1484.9,1079.3 C1490.0,1079.4 1497.5,1079.3 1500.0,1079.3 L1500,1178 L1500.0,1178.4 C1497.5,1177.9 1490.0,1176.3 1485.0,1175.2 C1480.0,1174.1 1475.0,1173.0 1470.0,1171.9 C1465.0,1170.8 1460.0,1169.6 1455.0,1168.5 C1450.0,1167.3 1445.0,1166.2 1440.0,1165.0 C1435.0,1163.8 1430.0,1162.6 1425.0,1161.4 C1420.0,1160.2 1415.0,1158.9 1410.0,1157.7 C1405.0,1156.4 1400.0,1155.1 1395.0,1153.8 C1390.0,1152.5 1385.0,1151.2 1380.0,1149.8 C1375.0,1148.5 1370.0,1147.1 1365.0,1145.7 C1360.0,1144.3 1355.0,1142.8 1350.0,1141.3 C1345.0,1139.9 1340.0,1138.4 1335.0,1136.9 C1330.0,1135.3 1325.0,1133.8 1320.0,1132.2 C1315.0,1130.6 1310.0,1129.0 1305.0,1127.3 C1300.0,1125.6 1295.0,1123.9 1290.0,1122.2 C1285.0,1120.5 1280.0,1118.7 1275.0,1116.9 C1270.0,1115.1 1265.0,1113.2 1260.0,1111.3 C1255.0,1109.4 1250.0,1107.5 1245.0,1105.5 C1240.0,1103.5 1235.0,1101.5 1230.0,1099.5 C1225.0,1097.4 1220.0,1095.3 1215.0,1093.1 C1210.0,1091.0 1205.0,1088.8 1200.0,1086.5 C1195.0,1084.3 1190.0,1082.0 1185.0,1079.6 C1180.0,1077.3 1175.0,1074.9 1170.0,1072.4 C1165.0,1070.0 1160.0,1067.5 1155.0,1064.9 C1150.0,1062.3 1145.0,1059.7 1140.0,1057.0 C1135.0,1054.4 1130.0,1051.6 1125.0,1048.9 C1120.0,1046.1 1115.0,1043.2 1110.0,1040.3 C1105.0,1037.4 1100.0,1034.4 1095.0,1031.4 C1090.0,1028.4 1085.0,1025.3 1080.0,1022.1 C1075.0,1019.0 1070.0,1015.8 1065.0,1012.5 C1060.0,1009.2 1055.0,1005.8 1050.0,1002.4 C1045.0,999.0 1040.0,995.5 1035.0,992.0 C1030.0,988.4 1025.0,984.8 1020.0,981.1 C1015.0,977.4 1010.0,973.7 1005.0,969.9 C1000.0,966.1 995.0,962.2 990.0,958.3 C985.0,954.4 980.0,950.4 975.0,946.4 C970.0,942.4 965.0,938.4 960.0,934.3 C955.0,930.2 950.0,926.0 945.0,921.9 C940.0,917.7 935.0,913.5 930.0,909.3 C925.0,905.1 920.0,900.8 915.0,896.6 C910.0,892.3 905.0,888.0 900.0,883.7 C895.0,879.4 890.0,875.1 885.0,870.9 C880.0,866.6 875.0,862.3 870.0,858.1 C865.0,853.8 860.0,849.6 855.0,845.4 C850.0,841.2 845.0,837.1 840.0,833.0 C835.0,828.8 830.0,824.7 825.0,820.7 C820.0,816.6 815.0,812.6 810.0,808.6 C805.0,804.7 800.0,800.7 795.0,796.8 C790.0,792.9 785.0,789.0 780.0,785.2 C775.0,781.4 770.0,777.6 765.0,773.9 C760.0,770.2 755.0,766.5 750.0,762.8 C745.0,759.2 740.0,755.6 735.0,752.1 C730.0,748.6 725.0,745.1 720.0,741.6 C715.0,738.2 710.0,734.8 705.0,731.5 C700.0,728.2 695.0,725.0 690.0,721.8 C685.0,718.6 680.0,715.4 675.0,712.4 C670.0,709.3 665.0,706.3 660.0,703.4 C655.0,700.4 650.0,697.5 645.0,694.7 C640.0,691.9 635.0,689.2 630.0,686.5 C625.0,683.9 620.0,681.3 615.0,678.8 C610.0,676.3 605.0,673.8 600.0,671.5 C595.0,669.1 590.0,666.8 585.0,664.6 C580.0,662.4 575.0,660.3 570.0,658.3 C565.0,656.2 560.0,654.3 555.0,652.4 C550.0,650.6 545.0,648.8 540.0,647.1 C535.0,645.4 530.0,643.8 525.0,642.2 C520.0,640.7 515.0,639.2 510.0,637.8 C505.0,636.4 500.0,635.1 495.0,633.8 C490.0,632.6 485.0,631.4 480.0,630.3 C475.0,629.2 470.0,628.1 465.0,627.1 C460.0,626.2 455.0,625.2 450.0,624.4 C445.0,623.5 440.0,622.7 435.0,622.0 C430.0,621.2 425.0,620.6 420.0,619.9 C415.0,619.3 410.0,618.8 405.0,618.3 C400.0,617.8 395.0,617.3 390.0,616.9 C385.0,616.6 380.0,616.2 375.0,616.0 C370.0,615.7 365.0,615.5 360.0,615.4 C355.0,615.3 350.0,615.2 345.0,615.2 C340.0,615.2 335.0,615.3 330.0,615.5 C325.0,615.6 320.0,615.9 315.0,616.2 C310.0,616.5 305.0,616.9 300.0,617.4 C295.0,617.9 288.5,618.7 285.0,619.2 C281.5,619.6 280.0,620.0 279.0,620.1 Z" fill="url(#gFL)" filter="url(#tx1)" mask="url(#mFL)"/>
<path d="M255.0,760.0 C256.2,748.3 259.5,713.1 262.0,690.0 C264.5,666.9 266.2,633.3 270.0,621.5 C273.8,609.7 280.0,619.9 285.0,619.2 C290.0,618.5 295.0,617.9 300.0,617.4 C305.0,616.9 310.0,616.5 315.0,616.2 C320.0,615.9 325.0,615.6 330.0,615.5 C335.0,615.3 340.0,615.2 345.0,615.2 C350.0,615.2 355.0,615.3 360.0,615.4 C365.0,615.5 370.0,615.7 375.0,616.0 C380.0,616.2 385.0,616.6 390.0,616.9 C395.0,617.3 400.0,617.8 405.0,618.3 C410.0,618.8 415.0,619.3 420.0,619.9 C425.0,620.6 430.0,621.2 435.0,622.0 C440.0,622.7 445.0,623.5 450.0,624.4 C455.0,625.2 460.0,626.2 465.0,627.1 C470.0,628.1 475.0,629.2 480.0,630.3 C485.0,631.4 490.0,632.6 495.0,633.8 C500.0,635.1 505.0,636.4 510.0,637.8 C515.0,639.2 520.0,640.7 525.0,642.2 C530.0,643.8 535.0,645.4 540.0,647.1 C545.0,648.8 550.0,650.6 555.0,652.4 C560.0,654.3 565.0,656.2 570.0,658.3 C575.0,660.3 580.0,662.4 585.0,664.6 C590.0,666.8 595.0,669.1 600.0,671.5 C605.0,673.8 610.0,676.3 615.0,678.8 C620.0,681.3 625.0,683.9 630.0,686.5 C635.0,689.2 640.0,691.9 645.0,694.7 C650.0,697.5 655.0,700.4 660.0,703.4 C665.0,706.3 670.0,709.3 675.0,712.4 C680.0,715.4 685.0,718.6 690.0,721.8 C695.0,725.0 700.0,728.2 705.0,731.5 C710.0,734.8 715.0,738.2 720.0,741.6 C725.0,745.1 730.0,748.6 735.0,752.1 C740.0,755.6 745.0,759.2 750.0,762.8 C755.0,766.5 760.0,770.2 765.0,773.9 C770.0,777.6 775.0,781.4 780.0,785.2 C785.0,789.0 790.0,792.9 795.0,796.8 C800.0,800.7 805.0,804.7 810.0,808.6 C815.0,812.6 820.0,816.6 825.0,820.7 C830.0,824.7 835.0,828.8 840.0,833.0 C845.0,837.1 850.0,841.2 855.0,845.4 C860.0,849.6 865.0,853.8 870.0,858.1 C875.0,862.3 880.0,866.6 885.0,870.9 C890.0,875.1 895.0,879.4 900.0,883.7 C905.0,888.0 910.0,892.3 915.0,896.6 C920.0,900.8 925.0,905.1 930.0,909.3 C935.0,913.5 940.0,917.7 945.0,921.9 C950.0,926.0 955.0,930.2 960.0,934.3 C965.0,938.4 970.0,942.4 975.0,946.4 C980.0,950.4 985.0,954.4 990.0,958.3 C995.0,962.2 1000.0,966.1 1005.0,969.9 C1010.0,973.7 1015.0,977.4 1020.0,981.1 C1025.0,984.8 1030.0,988.4 1035.0,992.0 C1040.0,995.5 1045.0,999.0 1050.0,1002.4 C1055.0,1005.8 1060.0,1009.2 1065.0,1012.5 C1070.0,1015.8 1075.0,1019.0 1080.0,1022.1 C1085.0,1025.3 1090.0,1028.4 1095.0,1031.4 C1100.0,1034.4 1105.0,1037.4 1110.0,1040.3 C1115.0,1043.2 1120.0,1046.1 1125.0,1048.9 C1130.0,1051.6 1135.0,1054.4 1140.0,1057.0 C1145.0,1059.7 1150.0,1062.3 1155.0,1064.9 C1160.0,1067.5 1165.0,1070.0 1170.0,1072.4 C1175.0,1074.9 1180.0,1077.3 1185.0,1079.6 C1190.0,1082.0 1195.0,1084.3 1200.0,1086.5 C1205.0,1088.8 1210.0,1091.0 1215.0,1093.1 C1220.0,1095.3 1225.0,1097.4 1230.0,1099.5 C1235.0,1101.5 1240.0,1103.5 1245.0,1105.5 C1250.0,1107.5 1255.0,1109.4 1260.0,1111.3 C1265.0,1113.2 1270.0,1115.1 1275.0,1116.9 C1280.0,1118.7 1285.0,1120.5 1290.0,1122.2 C1295.0,1123.9 1300.0,1125.6 1305.0,1127.3 C1310.0,1129.0 1315.0,1130.6 1320.0,1132.2 C1325.0,1133.8 1330.0,1135.3 1335.0,1136.9 C1340.0,1138.4 1345.0,1139.9 1350.0,1141.3 C1355.0,1142.8 1360.0,1144.3 1365.0,1145.7 C1370.0,1147.1 1375.0,1148.5 1380.0,1149.8 C1385.0,1151.2 1390.0,1152.5 1395.0,1153.8 C1400.0,1155.1 1405.0,1156.4 1410.0,1157.7 C1415.0,1158.9 1420.0,1160.2 1425.0,1161.4 C1430.0,1162.6 1435.0,1163.8 1440.0,1165.0 C1445.0,1166.2 1450.0,1167.3 1455.0,1168.5 C1460.0,1169.6 1465.0,1170.8 1470.0,1171.9 C1475.0,1173.0 1480.0,1174.1 1485.0,1175.2 C1490.0,1176.3 1497.5,1177.9 1500.0,1178.4 L1500,1340.5 L1500.0,1341.5 C1497.5,1340.9 1490.0,1339.3 1485.0,1338.2 C1480.0,1337.0 1475.0,1335.9 1470.0,1334.7 C1465.0,1333.5 1460.0,1332.3 1455.0,1331.1 C1450.0,1329.9 1445.0,1328.6 1440.0,1327.3 C1435.0,1326.0 1430.0,1324.7 1425.0,1323.4 C1420.0,1322.1 1415.0,1320.7 1410.0,1319.3 C1405.0,1317.9 1400.0,1316.5 1395.0,1315.1 C1390.0,1313.6 1385.0,1312.2 1380.0,1310.7 C1375.0,1309.2 1370.0,1307.6 1365.0,1306.1 C1360.0,1304.5 1355.0,1302.9 1350.0,1301.3 C1345.0,1299.6 1340.0,1298.0 1335.0,1296.3 C1330.0,1294.6 1325.0,1292.8 1320.0,1291.1 C1315.0,1289.3 1310.0,1287.5 1305.0,1285.6 C1300.0,1283.8 1295.0,1281.9 1290.0,1280.0 C1285.0,1278.1 1280.0,1276.1 1275.0,1274.1 C1270.0,1272.1 1265.0,1270.1 1260.0,1268.0 C1255.0,1265.9 1250.0,1263.8 1245.0,1261.7 C1240.0,1259.5 1235.0,1257.3 1230.0,1255.1 C1225.0,1252.8 1220.0,1250.6 1215.0,1248.2 C1210.0,1245.9 1205.0,1243.5 1200.0,1241.1 C1195.0,1238.7 1190.0,1236.2 1185.0,1233.7 C1180.0,1231.2 1175.0,1228.6 1170.0,1226.0 C1165.0,1223.4 1160.0,1220.8 1155.0,1218.1 C1150.0,1215.4 1145.0,1212.6 1140.0,1209.8 C1135.0,1207.0 1130.0,1204.2 1125.0,1201.3 C1120.0,1198.4 1115.0,1195.4 1110.0,1192.4 C1105.0,1189.4 1100.0,1186.3 1095.0,1183.2 C1090.0,1180.1 1085.0,1176.9 1080.0,1173.7 C1075.0,1170.5 1070.0,1167.2 1065.0,1163.9 C1060.0,1160.6 1055.0,1157.3 1050.0,1153.9 C1045.0,1150.5 1040.0,1147.0 1035.0,1143.6 C1030.0,1140.1 1025.0,1136.6 1020.0,1133.0 C1015.0,1129.5 1010.0,1125.9 1005.0,1122.3 C1000.0,1118.6 995.0,1115.0 990.0,1111.3 C985.0,1107.6 980.0,1103.9 975.0,1100.2 C970.0,1096.5 965.0,1092.7 960.0,1088.9 C955.0,1085.2 950.0,1081.4 945.0,1077.5 C940.0,1073.7 935.0,1069.9 930.0,1066.0 C925.0,1062.2 920.0,1058.3 915.0,1054.5 C910.0,1050.6 905.0,1046.7 900.0,1042.8 C895.0,1038.9 890.0,1035.0 885.0,1031.1 C880.0,1027.2 875.0,1023.3 870.0,1019.4 C865.0,1015.5 860.0,1011.5 855.0,1007.6 C850.0,1003.7 845.0,999.8 840.0,995.9 C835.0,992.0 830.0,988.1 825.0,984.2 C820.0,980.4 815.0,976.5 810.0,972.6 C805.0,968.8 800.0,964.9 795.0,961.1 C790.0,957.2 785.0,953.4 780.0,949.6 C775.0,945.8 770.0,942.1 765.0,938.3 C760.0,934.6 755.0,930.8 750.0,927.1 C745.0,923.4 740.0,919.7 735.0,916.1 C730.0,912.5 725.0,908.8 720.0,905.3 C715.0,901.7 710.0,898.1 705.0,894.6 C700.0,891.1 695.0,887.6 690.0,884.2 C685.0,880.8 680.0,877.4 675.0,874.0 C670.0,870.7 665.0,867.4 660.0,864.2 C655.0,860.9 650.0,857.7 645.0,854.6 C640.0,851.4 635.0,848.3 630.0,845.3 C625.0,842.3 620.0,839.3 615.0,836.4 C610.0,833.5 605.0,830.6 600.0,827.8 C595.0,825.0 590.0,822.3 585.0,819.6 C580.0,817.0 575.0,814.4 570.0,811.9 C565.0,809.4 560.0,806.9 555.0,804.6 C550.0,802.2 545.0,799.9 540.0,797.7 C535.0,795.5 530.0,793.4 525.0,791.3 C520.0,789.3 515.0,787.3 510.0,785.5 C505.0,783.6 500.0,781.8 495.0,780.1 C490.0,778.5 485.0,776.9 480.0,775.4 C475.0,773.9 470.0,772.5 465.0,771.2 C460.0,769.8 455.0,768.6 450.0,767.5 C445.0,766.4 440.0,765.3 435.0,764.4 C430.0,763.4 425.0,762.5 420.0,761.7 C415.0,760.9 410.0,760.2 405.0,759.6 C400.0,758.9 395.0,758.4 390.0,757.9 C385.0,757.4 380.0,757.0 375.0,756.6 C370.0,756.3 365.0,756.0 360.0,755.8 C355.0,755.5 350.0,755.4 345.0,755.3 C340.0,755.2 335.0,755.1 330.0,755.2 C325.0,755.2 320.0,755.2 315.0,755.4 C310.0,755.5 305.0,755.7 300.0,755.9 C295.0,756.1 290.0,756.4 285.0,756.7 C280.0,757.0 275.0,757.3 270.0,757.7 C265.0,758.1 257.5,758.8 255.0,759.0 Z" fill="#111111" mask="url(#mWoven)"/>
<path d="M256.0,759.5 C258.0,758.9 264.0,756.9 268.0,755.9 C272.0,754.9 276.0,754.4 280.0,753.7 C284.0,752.9 288.0,752.3 292.0,751.5 C296.0,750.6 300.0,749.8 304.0,748.7 C308.0,747.6 312.0,746.1 316.0,744.8 C320.0,743.5 324.0,742.2 328.0,740.9 C332.0,739.6 336.0,738.6 340.0,737.0 C344.0,735.4 348.0,733.3 352.0,731.4 C356.0,729.5 360.0,727.6 364.0,725.8 C368.0,723.9 372.0,722.0 376.0,720.1 C380.0,718.3 384.0,716.2 388.0,714.7 C392.0,713.2 396.0,712.5 400.0,711.3 C404.0,710.2 408.0,709.1 412.0,707.9 C416.0,706.8 420.0,705.6 424.0,704.5 C428.0,703.5 432.0,702.4 436.0,701.6 C440.0,700.9 444.0,700.6 448.0,700.1 C452.0,699.6 456.0,699.1 460.0,698.6 C464.0,698.0 468.0,697.5 472.0,697.0 C476.0,696.6 480.0,696.1 484.0,695.8 C488.0,695.6 492.0,695.5 496.0,695.4 C500.0,695.2 504.0,695.0 508.0,694.9 C512.0,694.7 516.0,694.5 520.0,694.4 C524.0,694.3 528.0,694.1 532.0,694.0 C536.0,694.0 540.0,694.2 544.0,694.3 C548.0,694.4 552.0,694.5 556.0,694.6 C560.0,694.7 564.0,694.7 568.0,694.9 C572.0,695.1 576.0,695.5 580.0,695.9 C584.0,696.3 588.0,696.9 592.0,697.4 C596.0,697.9 600.0,698.4 604.0,699.0 C608.0,699.5 612.0,699.8 616.0,700.5 C620.0,701.2 624.0,702.1 628.0,703.0 C632.0,704.0 636.0,705.1 640.0,706.1 C644.0,707.1 648.0,708.1 652.0,709.2 C656.0,710.2 660.0,710.8 664.0,712.2 C668.0,713.6 672.0,715.6 676.0,717.5 C680.0,719.4 684.0,721.5 688.0,723.5 C692.0,725.5 696.0,727.1 700.0,729.5 C704.0,731.9 708.0,734.6 712.0,737.6 C716.0,740.6 720.0,744.0 724.0,747.2 C728.0,750.4 732.0,753.7 736.0,756.8 C740.0,759.9 744.0,762.9 748.0,765.9 C752.0,768.8 756.0,772.0 760.0,774.7 C764.0,777.3 768.0,779.6 772.0,781.9 C776.0,784.1 780.0,785.7 784.0,788.3 C788.0,790.9 792.0,794.5 796.0,797.6 C800.0,800.7 804.0,803.9 808.0,807.1 C812.0,810.2 816.0,813.4 820.0,816.7 C824.0,819.9 828.0,823.2 832.0,826.4 C836.0,829.7 840.0,833.0 844.0,836.3 C848.0,839.6 852.0,842.9 856.0,846.3 C860.0,849.6 864.0,853.0 868.0,856.4 C872.0,859.8 876.0,863.2 880.0,866.6 C884.0,870.0 888.0,873.4 892.0,876.9 C896.0,880.3 900.0,883.7 904.0,887.1 C908.0,890.6 912.0,894.0 916.0,897.4 C920.0,900.8 924.0,904.2 928.0,907.6 C932.0,911.0 936.0,914.4 940.0,917.7 C944.0,921.0 948.0,924.4 952.0,927.7 C956.0,931.0 960.0,934.3 964.0,937.5 C968.0,940.8 972.0,944.0 976.0,947.2 C980.0,950.4 984.0,953.6 988.0,956.7 C992.0,959.8 996.0,962.9 1000.0,966.0 C1004.0,969.1 1008.0,972.1 1012.0,975.1 C1016.0,978.1 1020.0,981.1 1024.0,984.0 C1028.0,986.9 1032.0,989.8 1036.0,992.7 C1040.0,995.5 1044.0,998.3 1048.0,1001.0 C1052.0,1003.8 1056.0,1006.5 1060.0,1009.1 C1064.0,1011.8 1068.0,1014.4 1072.0,1017.0 C1076.0,1019.6 1080.0,1022.1 1084.0,1024.6 C1088.0,1027.1 1092.0,1029.6 1096.0,1032.0 C1100.0,1034.4 1104.0,1036.8 1108.0,1039.1 C1112.0,1041.5 1116.0,1043.8 1120.0,1046.0 C1124.0,1048.3 1128.0,1050.5 1132.0,1052.7 C1136.0,1054.9 1140.0,1057.0 1144.0,1059.1 C1148.0,1061.3 1152.0,1063.4 1156.0,1065.4 C1160.0,1067.4 1164.0,1069.4 1168.0,1071.4 C1172.0,1073.4 1176.0,1075.3 1180.0,1077.2 C1184.0,1079.1 1188.0,1081.0 1192.0,1082.8 C1196.0,1084.7 1200.0,1086.5 1204.0,1088.3 C1208.0,1090.1 1212.0,1091.8 1216.0,1093.6 C1220.0,1095.3 1224.0,1097.0 1228.0,1098.6 C1232.0,1100.3 1236.0,1101.9 1240.0,1103.5 C1244.0,1105.1 1248.0,1106.7 1252.0,1108.2 C1256.0,1109.8 1260.0,1111.3 1264.0,1112.8 C1268.0,1114.3 1272.0,1115.8 1276.0,1117.2 C1280.0,1118.7 1284.0,1120.1 1288.0,1121.5 C1292.0,1122.9 1296.0,1124.2 1300.0,1125.6 C1304.0,1126.9 1308.0,1128.3 1312.0,1129.6 C1316.0,1130.9 1320.0,1132.2 1324.0,1133.4 C1328.0,1134.7 1332.0,1135.9 1336.0,1137.2 C1340.0,1138.4 1344.0,1139.6 1348.0,1140.7 C1352.0,1141.9 1356.0,1143.1 1360.0,1144.2 C1364.0,1145.4 1368.0,1146.5 1372.0,1147.6 C1376.0,1148.7 1380.0,1149.8 1384.0,1150.9 C1388.0,1152.0 1392.0,1153.0 1396.0,1154.1 C1400.0,1155.1 1404.0,1156.1 1408.0,1157.1 C1412.0,1158.2 1416.0,1159.2 1420.0,1160.1 C1424.0,1161.1 1428.0,1162.1 1432.0,1163.1 C1436.0,1164.0 1440.0,1165.0 1444.0,1165.9 C1448.0,1166.9 1452.0,1167.8 1456.0,1168.7 C1460.0,1169.6 1464.0,1170.5 1468.0,1171.4 C1472.0,1172.3 1476.0,1173.2 1480.0,1174.1 C1484.0,1175.0 1488.7,1176.0 1492.0,1176.7 C1495.3,1177.4 1498.7,1178.1 1500.0,1178.4 L1500.0,1341.5 C1498.7,1341.2 1495.3,1340.5 1492.0,1339.7 C1488.7,1339.0 1484.0,1337.9 1480.0,1337.0 C1476.0,1336.1 1472.0,1335.2 1468.0,1334.2 C1464.0,1333.3 1460.0,1332.3 1456.0,1331.3 C1452.0,1330.3 1448.0,1329.3 1444.0,1328.3 C1440.0,1327.3 1436.0,1326.3 1432.0,1325.2 C1428.0,1324.2 1424.0,1323.1 1420.0,1322.0 C1416.0,1321.0 1412.0,1319.9 1408.0,1318.8 C1404.0,1317.7 1400.0,1316.5 1396.0,1315.4 C1392.0,1314.2 1388.0,1313.0 1384.0,1311.8 C1380.0,1310.6 1376.0,1309.4 1372.0,1308.2 C1368.0,1307.0 1364.0,1305.7 1360.0,1304.5 C1356.0,1303.2 1352.0,1301.9 1348.0,1300.6 C1344.0,1299.3 1340.0,1297.9 1336.0,1296.6 C1332.0,1295.2 1328.0,1293.8 1324.0,1292.4 C1320.0,1291.0 1316.0,1289.6 1312.0,1288.2 C1308.0,1286.7 1304.0,1285.2 1300.0,1283.8 C1296.0,1282.3 1292.0,1280.8 1288.0,1279.2 C1284.0,1277.7 1280.0,1276.1 1276.0,1274.5 C1272.0,1272.9 1268.0,1271.3 1264.0,1269.6 C1260.0,1268.0 1256.0,1266.3 1252.0,1264.6 C1248.0,1262.9 1244.0,1261.2 1240.0,1259.5 C1236.0,1257.7 1232.0,1256.0 1228.0,1254.2 C1224.0,1252.4 1220.0,1250.5 1216.0,1248.7 C1212.0,1246.8 1208.0,1244.9 1204.0,1243.0 C1200.0,1241.1 1196.0,1239.1 1192.0,1237.2 C1188.0,1235.2 1184.0,1233.2 1180.0,1231.2 C1176.0,1229.1 1172.0,1227.1 1168.0,1225.0 C1164.0,1222.9 1160.0,1220.8 1156.0,1218.6 C1152.0,1216.5 1148.0,1214.2 1144.0,1212.0 C1140.0,1209.8 1136.0,1207.5 1132.0,1205.3 C1128.0,1203.0 1124.0,1200.7 1120.0,1198.3 C1116.0,1196.0 1112.0,1193.6 1108.0,1191.2 C1104.0,1188.8 1100.0,1186.3 1096.0,1183.8 C1092.0,1181.3 1088.0,1178.8 1084.0,1176.3 C1080.0,1173.7 1076.0,1171.1 1072.0,1168.5 C1068.0,1165.9 1064.0,1163.3 1060.0,1160.6 C1056.0,1157.9 1052.0,1155.2 1048.0,1152.5 C1044.0,1149.8 1040.0,1147.0 1036.0,1144.3 C1032.0,1141.5 1028.0,1138.7 1024.0,1135.8 C1020.0,1133.0 1016.0,1130.2 1012.0,1127.3 C1008.0,1124.4 1004.0,1121.5 1000.0,1118.6 C996.0,1115.7 992.0,1112.8 988.0,1109.8 C984.0,1106.9 980.0,1103.9 976.0,1100.9 C972.0,1098.0 968.0,1095.0 964.0,1091.9 C960.0,1088.9 956.0,1085.9 952.0,1082.9 C948.0,1079.8 944.0,1076.8 940.0,1073.7 C936.0,1070.6 932.0,1067.6 928.0,1064.5 C924.0,1061.4 920.0,1058.3 916.0,1055.2 C912.0,1052.1 908.0,1049.0 904.0,1045.9 C900.0,1042.8 896.0,1039.7 892.0,1036.6 C888.0,1033.4 884.0,1030.3 880.0,1027.2 C876.0,1024.1 872.0,1020.9 868.0,1017.8 C864.0,1014.7 860.0,1011.5 856.0,1008.4 C852.0,1005.3 848.0,1002.2 844.0,999.0 C840.0,995.9 836.0,992.8 832.0,989.7 C828.0,986.6 824.0,983.5 820.0,980.4 C816.0,977.3 812.0,974.2 808.0,971.1 C804.0,968.0 800.0,964.9 796.0,961.8 C792.0,958.8 788.0,955.7 784.0,952.7 C780.0,949.6 776.0,946.6 772.0,943.6 C768.0,940.6 764.0,937.6 760.0,934.6 C756.0,931.6 752.0,928.6 748.0,925.7 C744.0,922.7 740.0,919.7 736.0,916.8 C732.0,913.9 728.0,911.0 724.0,908.1 C720.0,905.3 716.0,902.4 712.0,899.6 C708.0,896.7 704.0,893.9 700.0,891.1 C696.0,888.4 692.0,885.6 688.0,882.8 C684.0,880.1 680.0,877.4 676.0,874.7 C672.0,872.0 668.0,869.4 664.0,866.8 C660.0,864.2 656.0,861.6 652.0,859.0 C648.0,856.5 644.0,854.0 640.0,851.5 C636.0,849.0 632.0,846.5 628.0,844.1 C624.0,841.7 620.0,839.3 616.0,837.0 C612.0,834.6 608.0,832.3 604.0,830.1 C600.0,827.8 596.0,825.6 592.0,823.5 C588.0,821.3 584.0,819.2 580.0,817.1 C576.0,815.0 572.0,812.9 568.0,810.9 C564.0,808.9 560.0,807.0 556.0,805.1 C552.0,803.2 548.0,801.3 544.0,799.5 C540.0,797.8 536.0,796.0 532.0,794.3 C528.0,792.6 524.0,791.0 520.0,789.4 C516.0,787.8 512.0,786.3 508.0,784.8 C504.0,783.3 500.0,781.9 496.0,780.5 C492.0,779.1 488.0,777.9 484.0,776.6 C480.0,775.4 476.0,774.2 472.0,773.1 C468.0,772.0 464.0,770.9 460.0,769.9 C456.0,768.9 452.0,768.0 448.0,767.1 C444.0,766.2 440.0,765.3 436.0,764.6 C432.0,763.8 428.0,763.1 424.0,762.4 C420.0,761.8 416.0,761.2 412.0,760.6 C408.0,760.0 404.0,759.5 400.0,759.0 C396.0,758.5 392.0,758.1 388.0,757.7 C384.0,757.3 380.0,757.0 376.0,756.7 C372.0,756.4 368.0,756.2 364.0,756.0 C360.0,755.8 356.0,755.6 352.0,755.5 C348.0,755.4 344.0,755.3 340.0,755.2 C336.0,755.2 332.0,755.2 328.0,755.2 C324.0,755.2 320.0,755.3 316.0,755.3 C312.0,755.4 308.0,755.6 304.0,755.7 C300.0,755.9 296.0,756.1 292.0,756.3 C288.0,756.5 284.0,756.8 280.0,757.0 C276.0,757.3 272.0,757.6 268.0,757.9 C264.0,758.2 258.0,758.8 256.0,758.9 Z" fill="url(#weave)" mask="url(#mWoven)"/>
<path d="M0.0,553.9 C2.5,552.5 10.0,548.3 15.0,545.5 C20.0,542.8 25.0,540.0 30.0,537.3 C35.0,534.7 40.0,532.0 45.0,529.4 C50.0,526.8 55.0,524.2 60.0,521.6 C65.0,519.1 70.0,516.6 75.0,514.2 C80.0,511.7 85.0,509.3 90.0,506.9 C95.0,504.6 100.0,502.3 105.0,500.0 C110.0,497.7 115.0,495.5 120.0,493.4 C125.0,491.2 130.0,489.1 135.0,487.0 C140.0,485.0 145.0,483.0 150.0,481.1 C155.0,479.1 160.0,477.3 165.0,475.4 C170.0,473.6 175.0,471.9 180.0,470.2 C185.0,468.5 190.0,466.9 195.0,465.3 C200.0,463.8 205.0,462.3 210.0,460.9 C215.0,459.5 220.0,458.1 225.0,456.9 C230.0,455.6 235.0,454.4 240.0,453.2 C245.0,452.1 250.0,451.0 255.0,450.0 C260.0,449.0 265.0,448.0 270.0,447.2 C275.0,446.3 280.0,445.5 285.0,444.7 C290.0,443.9 295.0,443.3 300.0,442.6 C305.0,442.0 310.0,441.4 315.0,440.9 C320.0,440.4 325.0,439.9 330.0,439.6 C335.0,439.2 340.0,438.8 345.0,438.6 C350.0,438.3 355.0,438.1 360.0,437.9 C365.0,437.7 370.0,437.6 375.0,437.6 C380.0,437.5 385.0,437.6 390.0,437.6 C395.0,437.7 400.0,437.8 405.0,438.0 C410.0,438.1 415.0,438.4 420.0,438.6 C425.0,438.9 430.0,439.2 435.0,439.6 C440.0,440.0 445.0,440.4 450.0,440.9 C455.0,441.4 460.0,441.9 465.0,442.5 C470.0,443.1 475.0,443.7 480.0,444.4 C485.0,445.1 490.0,445.8 495.0,446.6 C500.0,447.4 505.0,448.2 510.0,449.1 C515.0,450.0 520.0,450.9 525.0,451.9 C530.0,452.9 535.0,454.0 540.0,455.1 C545.0,456.2 550.0,457.4 555.0,458.6 C560.0,459.8 565.0,461.1 570.0,462.4 C575.0,463.7 580.0,465.1 585.0,466.5 C590.0,467.9 595.0,469.4 600.0,470.9 C605.0,472.5 610.0,474.1 615.0,475.7 C620.0,477.4 625.0,479.1 630.0,480.8 C635.0,482.6 640.0,484.4 645.0,486.3 C650.0,488.1 655.0,490.1 660.0,492.0 C665.0,494.0 670.0,496.1 675.0,498.2 C680.0,500.3 685.0,502.4 690.0,504.6 C695.0,506.8 700.0,509.1 705.0,511.4 C710.0,513.7 715.0,516.1 720.0,518.5 C725.0,521.0 730.0,523.5 735.0,526.0 C740.0,528.6 745.0,531.2 750.0,533.9 C755.0,536.5 760.0,539.3 765.0,542.1 C770.0,544.8 775.5,548.0 780.0,550.6 C784.5,553.2 790.0,556.5 792.0,557.7 L792.0,555.4 C790.0,554.7 784.0,552.2 780.0,550.8 C776.0,549.3 772.0,548.0 768.0,546.7 C764.0,545.5 760.0,544.4 756.0,543.3 C752.0,542.3 748.0,541.3 744.0,540.4 C740.0,539.6 736.0,538.8 732.0,538.1 C728.0,537.4 724.0,536.8 720.0,536.2 C716.0,535.7 712.0,535.2 708.0,534.8 C704.0,534.4 700.0,534.0 696.0,533.7 C692.0,533.4 688.0,533.2 684.0,533.0 C680.0,532.8 676.0,532.7 672.0,532.6 C668.0,532.5 664.0,532.5 660.0,532.5 C656.0,532.5 652.0,532.5 648.0,532.6 C644.0,532.6 640.0,532.7 636.0,532.8 C632.0,532.9 628.0,533.0 624.0,533.2 C620.0,533.3 616.0,533.5 612.0,533.7 C608.0,533.8 604.0,534.0 600.0,534.2 C596.0,534.4 592.0,534.6 588.0,534.8 C584.0,535.0 580.0,535.2 576.0,535.5 C572.0,535.7 568.0,535.9 564.0,536.2 C560.0,536.4 556.0,536.7 552.0,536.9 C548.0,537.2 544.0,537.5 540.0,537.8 C536.0,538.0 532.0,538.3 528.0,538.6 C524.0,538.9 520.0,539.2 516.0,539.5 C512.0,539.8 508.0,540.1 504.0,540.4 C500.0,540.7 496.0,541.0 492.0,541.3 C488.0,541.7 484.0,542.0 480.0,542.3 C476.0,542.6 472.0,543.0 468.0,543.3 C464.0,543.6 460.0,543.9 456.0,544.3 C452.0,544.6 448.0,544.9 444.0,545.2 C440.0,545.6 436.0,545.9 432.0,546.2 C428.0,546.6 424.0,546.9 420.0,547.2 C416.0,547.5 412.0,547.9 408.0,548.2 C404.0,548.5 400.0,548.8 396.0,549.1 C392.0,549.4 388.0,549.8 384.0,550.1 C380.0,550.4 376.0,550.7 372.0,551.0 C368.0,551.3 364.0,551.6 360.0,551.9 C356.0,552.2 352.0,552.5 348.0,552.8 C344.0,553.1 340.0,553.4 336.0,553.7 C332.0,554.1 328.0,554.4 324.0,554.7 C320.0,555.1 316.0,555.4 312.0,555.8 C308.0,556.2 304.0,556.6 300.0,557.0 C296.0,557.4 292.0,557.8 288.0,558.2 C284.0,558.6 280.0,559.1 276.0,559.6 C272.0,560.1 268.0,560.6 264.0,561.1 C260.0,561.6 256.0,562.2 252.0,562.7 C248.0,563.3 244.0,563.9 240.0,564.6 C236.0,565.2 232.0,565.9 228.0,566.6 C224.0,567.3 220.0,568.0 216.0,568.8 C212.0,569.6 208.0,570.4 204.0,571.2 C200.0,572.1 196.0,573.0 192.0,573.9 C188.0,574.8 184.0,575.8 180.0,576.8 C176.0,577.8 172.0,578.9 168.0,580.0 C164.0,581.1 160.0,582.3 156.0,583.5 C152.0,584.7 148.0,585.9 144.0,587.2 C140.0,588.5 136.0,589.9 132.0,591.3 C128.0,592.7 124.0,594.1 120.0,595.6 C116.0,597.1 112.0,598.6 108.0,600.2 C104.0,601.9 100.0,603.5 96.0,605.2 C92.0,606.9 88.0,608.7 84.0,610.4 C80.0,612.2 76.0,614.1 72.0,615.9 C68.0,617.7 64.0,619.6 60.0,621.5 C56.0,623.4 52.0,625.3 48.0,627.2 C44.0,629.1 40.0,631.0 36.0,632.9 C32.0,634.8 28.0,636.7 24.0,638.5 C20.0,640.4 16.0,642.3 12.0,644.1 C8.0,646.0 2.0,648.7 0.0,649.6 Z" fill="url(#gB)"/>
<path d="M0.0,550.9 C2.5,549.5 10.0,545.3 15.0,542.5 C20.0,539.8 25.0,537.0 30.0,534.3 C35.0,531.7 40.0,529.0 45.0,526.4 C50.0,523.8 55.0,521.2 60.0,518.6 C65.0,516.1 70.0,513.6 75.0,511.2 C80.0,508.7 85.0,506.3 90.0,503.9 C95.0,501.6 100.0,499.3 105.0,497.0 C110.0,494.7 115.0,492.5 120.0,490.4 C125.0,488.2 130.0,486.1 135.0,484.0 C140.0,482.0 145.0,480.0 150.0,478.1 C155.0,476.1 160.0,474.3 165.0,472.4 C170.0,470.6 175.0,468.9 180.0,467.2 C185.0,465.5 190.0,463.9 195.0,462.3 C200.0,460.8 205.0,459.3 210.0,457.9 C215.0,456.5 220.0,455.1 225.0,453.9 C230.0,452.6 235.0,451.4 240.0,450.2 C245.0,449.1 250.0,448.0 255.0,447.0 C260.0,446.0 265.0,445.0 270.0,444.2 C275.0,443.3 280.0,442.5 285.0,441.7 C290.0,440.9 295.0,440.3 300.0,439.6 C305.0,439.0 310.0,438.4 315.0,437.9 C320.0,437.4 325.0,436.9 330.0,436.6 C335.0,436.2 340.0,435.8 345.0,435.6 C350.0,435.3 355.0,435.1 360.0,434.9 C365.0,434.7 370.0,434.6 375.0,434.6 C380.0,434.5 385.0,434.6 390.0,434.6 C395.0,434.7 400.0,434.8 405.0,435.0 C410.0,435.1 415.0,435.4 420.0,435.6 C425.0,435.9 430.0,436.2 435.0,436.6 C440.0,437.0 445.0,437.4 450.0,437.9 C455.0,438.4 460.0,438.9 465.0,439.5 C470.0,440.1 475.0,440.7 480.0,441.4 C485.0,442.1 490.0,442.8 495.0,443.6 C500.0,444.4 505.0,445.2 510.0,446.1 C515.0,447.0 520.0,447.9 525.0,448.9 C530.0,449.9 535.0,451.0 540.0,452.1 C545.0,453.2 550.0,454.6 555.0,455.6 C560.0,456.6 565.0,457.4 570.0,458.2 C575.0,459.0 580.0,459.7 585.0,460.6 C590.0,461.4 595.0,462.3 600.0,463.3 C605.0,464.2 610.0,465.1 615.0,466.3 C620.0,467.5 625.0,469.1 630.0,470.7 C635.0,472.3 640.0,474.1 645.0,475.9 C650.0,477.7 655.0,479.5 660.0,481.4 C665.0,483.3 670.0,485.3 675.0,487.3 C680.0,489.3 685.0,491.4 690.0,493.5 C695.0,495.7 700.0,497.9 705.0,500.1 C710.0,502.3 715.0,504.6 720.0,507.0 C725.0,509.4 730.0,511.8 735.0,514.3 C740.0,516.7 745.0,519.3 750.0,521.9 C755.0,524.4 760.0,526.9 765.0,529.5 C770.0,532.1 775.0,534.7 780.0,537.4 C785.0,540.2 790.0,542.9 795.0,545.8 C800.0,548.6 805.0,551.5 810.0,554.4 C815.0,557.4 820.0,560.4 825.0,563.4 C830.0,566.5 835.0,569.6 840.0,572.7 C845.0,575.9 850.0,579.1 855.0,582.4 C860.0,585.6 865.0,588.9 870.0,592.2 C875.0,595.6 880.0,599.0 885.0,602.5 C890.0,606.1 895.0,609.8 900.0,613.5 C905.0,617.1 910.0,620.8 915.0,624.6 C920.0,628.3 925.0,632.1 930.0,635.9 C935.0,639.7 940.0,643.5 945.0,647.4 C950.0,651.2 955.0,655.1 960.0,659.0 C965.0,662.9 970.0,666.8 975.0,670.7 C980.0,674.6 985.0,678.5 990.0,682.5 C995.0,686.5 1000.0,690.5 1005.0,694.6 C1010.0,698.7 1015.0,703.0 1020.0,707.1 C1025.0,711.3 1030.0,715.5 1035.0,719.7 C1040.0,723.9 1045.0,728.1 1050.0,732.3 C1055.0,736.5 1060.0,740.7 1065.0,744.9 C1070.0,749.1 1075.0,753.3 1080.0,757.4 C1085.0,761.6 1090.0,765.9 1095.0,769.9 C1100.0,773.9 1105.0,777.6 1110.0,781.3 C1115.0,785.0 1120.0,788.5 1125.0,792.0 C1130.0,795.6 1135.0,799.1 1140.0,802.6 C1145.0,806.1 1150.0,809.6 1155.0,813.0 C1160.0,816.5 1165.0,819.8 1170.0,823.2 C1175.0,826.5 1180.0,829.9 1185.0,833.2 C1190.0,836.6 1195.0,840.0 1200.0,843.3 C1205.0,846.6 1210.0,849.8 1215.0,853.0 C1220.0,856.1 1225.0,859.2 1230.0,862.2 C1235.0,865.2 1240.0,868.2 1245.0,871.0 C1250.0,873.9 1255.0,876.6 1260.0,879.3 C1265.0,881.9 1270.0,884.5 1275.0,887.0 C1280.0,889.5 1285.0,891.8 1290.0,894.1 C1295.0,896.4 1300.0,898.6 1305.0,900.7 C1310.0,902.9 1315.0,905.1 1320.0,907.2 C1325.0,909.2 1330.0,911.1 1335.0,912.9 C1340.0,914.7 1345.0,916.4 1350.0,918.0 C1355.0,919.6 1360.0,921.1 1365.0,922.5 C1370.0,923.9 1375.0,925.2 1380.0,926.4 C1385.0,927.6 1390.0,928.7 1395.0,929.7 C1400.0,930.8 1405.0,931.7 1410.0,932.6 C1415.0,933.5 1420.0,934.3 1425.0,935.0 C1430.0,935.7 1435.0,936.4 1440.0,936.9 C1445.0,937.5 1450.0,938.0 1455.0,938.5 C1460.0,939.0 1465.0,939.3 1470.0,939.7 C1475.0,940.0 1480.0,940.3 1485.0,940.5 C1490.0,940.8 1497.5,941.0 1500.0,941.1 L1500.0,958.1 C1497.5,958.1 1490.0,958.0 1485.0,957.8 C1480.0,957.7 1475.0,957.5 1470.0,957.3 C1465.0,957.0 1460.0,956.8 1455.0,956.4 C1450.0,956.0 1445.0,955.6 1440.0,955.1 C1435.0,954.7 1430.0,954.1 1425.0,953.5 C1420.0,952.9 1415.0,952.2 1410.0,951.4 C1405.0,950.6 1400.0,949.8 1395.0,948.8 C1390.0,947.9 1385.0,946.9 1380.0,945.8 C1375.0,944.7 1370.0,943.5 1365.0,942.2 C1360.0,940.9 1355.0,939.5 1350.0,938.0 C1345.0,936.5 1340.0,934.9 1335.0,933.2 C1330.0,931.5 1325.0,929.7 1320.0,927.8 C1315.0,925.8 1310.0,923.8 1305.0,921.6 C1300.0,919.5 1295.0,917.2 1290.0,914.8 C1285.0,912.5 1280.0,910.0 1275.0,907.4 C1270.0,904.8 1265.0,902.1 1260.0,899.3 C1255.0,896.5 1250.0,893.6 1245.0,890.6 C1240.0,887.7 1235.0,884.6 1230.0,881.5 C1225.0,878.4 1220.0,875.1 1215.0,871.9 C1210.0,868.6 1205.0,865.2 1200.0,861.8 C1195.0,858.4 1190.0,854.9 1185.0,851.3 C1180.0,847.8 1175.0,844.2 1170.0,840.6 C1165.0,836.9 1160.0,833.2 1155.0,829.5 C1150.0,825.7 1145.0,822.0 1140.0,818.1 C1135.0,814.3 1130.0,810.5 1125.0,806.6 C1120.0,802.7 1115.0,798.8 1110.0,794.9 C1105.0,791.0 1100.0,787.1 1095.0,783.1 C1090.0,779.2 1085.0,775.2 1080.0,771.2 C1075.0,767.3 1070.0,763.3 1065.0,759.3 C1060.0,755.3 1055.0,751.3 1050.0,747.3 C1045.0,743.3 1040.0,739.3 1035.0,735.3 C1030.0,731.3 1025.0,727.3 1020.0,723.3 C1015.0,719.4 1010.0,715.4 1005.0,711.4 C1000.0,707.4 995.0,703.5 990.0,699.5 C985.0,695.6 980.0,691.6 975.0,687.7 C970.0,683.8 965.0,679.9 960.0,676.0 C955.0,672.1 950.0,668.2 945.0,664.4 C940.0,660.5 935.0,656.7 930.0,652.9 C925.0,649.1 920.0,645.3 915.0,641.6 C910.0,637.8 905.0,634.1 900.0,630.5 C895.0,626.8 890.0,623.1 885.0,619.5 C880.0,615.9 875.0,612.4 870.0,608.8 C865.0,605.3 860.0,601.8 855.0,598.4 C850.0,595.0 845.0,591.6 840.0,588.2 C835.0,584.9 830.0,581.6 825.0,578.3 C820.0,575.1 815.0,571.9 810.0,568.7 C805.0,565.6 800.0,562.5 795.0,559.5 C790.0,556.5 785.0,553.5 780.0,550.6 C775.0,547.7 770.0,544.8 765.0,542.1 C760.0,539.3 755.0,536.5 750.0,533.9 C745.0,531.2 740.0,528.6 735.0,526.0 C730.0,523.5 725.0,521.0 720.0,518.5 C715.0,516.1 710.0,513.7 705.0,511.4 C700.0,509.1 695.0,506.8 690.0,504.6 C685.0,502.4 680.0,500.3 675.0,498.2 C670.0,496.1 665.0,494.0 660.0,492.0 C655.0,490.1 650.0,488.1 645.0,486.3 C640.0,484.4 635.0,482.6 630.0,480.8 C625.0,479.1 620.0,477.4 615.0,475.7 C610.0,474.1 605.0,472.5 600.0,470.9 C595.0,469.4 590.0,467.9 585.0,466.5 C580.0,465.1 575.0,463.7 570.0,462.4 C565.0,461.1 560.0,459.8 555.0,458.6 C550.0,457.4 545.0,456.2 540.0,455.1 C535.0,454.0 530.0,452.9 525.0,451.9 C520.0,450.9 515.0,450.0 510.0,449.1 C505.0,448.2 500.0,447.4 495.0,446.6 C490.0,445.8 485.0,445.1 480.0,444.4 C475.0,443.7 470.0,443.1 465.0,442.5 C460.0,441.9 455.0,441.4 450.0,440.9 C445.0,440.4 440.0,440.0 435.0,439.6 C430.0,439.2 425.0,438.9 420.0,438.6 C415.0,438.4 410.0,438.1 405.0,438.0 C400.0,437.8 395.0,437.7 390.0,437.6 C385.0,437.6 380.0,437.5 375.0,437.6 C370.0,437.6 365.0,437.7 360.0,437.9 C355.0,438.1 350.0,438.3 345.0,438.6 C340.0,438.8 335.0,439.2 330.0,439.6 C325.0,439.9 320.0,440.4 315.0,440.9 C310.0,441.4 305.0,442.0 300.0,442.6 C295.0,443.3 290.0,443.9 285.0,444.7 C280.0,445.5 275.0,446.3 270.0,447.2 C265.0,448.0 260.0,449.0 255.0,450.0 C250.0,451.0 245.0,452.1 240.0,453.2 C235.0,454.4 230.0,455.6 225.0,456.9 C220.0,458.1 215.0,459.5 210.0,460.9 C205.0,462.3 200.0,463.8 195.0,465.3 C190.0,466.9 185.0,468.5 180.0,470.2 C175.0,471.9 170.0,473.6 165.0,475.4 C160.0,477.3 155.0,479.1 150.0,481.1 C145.0,483.0 140.0,485.0 135.0,487.0 C130.0,489.1 125.0,491.2 120.0,493.4 C115.0,495.5 110.0,497.7 105.0,500.0 C100.0,502.3 95.0,504.6 90.0,506.9 C85.0,509.3 80.0,511.7 75.0,514.2 C70.0,516.6 65.0,519.1 60.0,521.6 C55.0,524.2 50.0,526.8 45.0,529.4 C40.0,532.0 35.0,534.7 30.0,537.3 C25.0,540.0 20.0,542.8 15.0,545.5 C10.0,548.3 2.5,552.5 0.0,553.9 Z" fill="url(#gC)"/>
<path d="M0.0,848.0 C2.5,846.2 10.0,840.9 15.0,837.6 C20.0,834.3 25.0,831.1 30.0,828.0 C35.0,825.0 40.0,822.0 45.0,819.2 C50.0,816.5 55.0,813.8 60.0,811.2 C65.0,808.7 70.0,806.2 75.0,803.9 C80.0,801.6 85.0,799.4 90.0,797.3 C95.0,795.2 100.0,793.2 105.0,791.3 C110.0,789.4 115.0,787.7 120.0,786.0 C125.0,784.3 130.0,782.7 135.0,781.2 C140.0,779.7 145.0,778.2 150.0,776.9 C155.0,775.6 160.0,774.3 165.0,773.1 C170.0,772.0 175.0,770.9 180.0,769.8 C185.0,768.8 190.0,767.9 195.0,767.0 C200.0,766.1 205.0,765.2 210.0,764.5 C215.0,763.7 220.0,763.0 225.0,762.4 C230.0,761.7 235.0,761.1 240.0,760.5 C245.0,760.0 250.0,759.5 255.0,759.0 C260.0,758.5 265.0,758.1 270.0,757.7 C275.0,757.3 280.0,757.0 285.0,756.7 C290.0,756.4 295.0,756.1 300.0,755.9 C305.0,755.7 310.0,755.5 315.0,755.4 C320.0,755.2 325.0,755.2 330.0,755.2 C335.0,755.1 340.0,755.2 345.0,755.3 C350.0,755.4 355.0,755.5 360.0,755.8 C365.0,756.0 370.0,756.3 375.0,756.6 C380.0,757.0 385.0,757.4 390.0,757.9 C395.0,758.4 400.0,758.9 405.0,759.6 C410.0,760.2 415.0,760.9 420.0,761.7 C425.0,762.5 430.0,763.4 435.0,764.4 C440.0,765.3 445.0,766.4 450.0,767.5 C455.0,768.6 460.0,769.8 465.0,771.2 C470.0,772.5 475.0,773.9 480.0,775.4 C485.0,776.9 490.0,778.5 495.0,780.1 C500.0,781.8 505.0,783.6 510.0,785.5 C515.0,787.3 520.0,789.3 525.0,791.3 C530.0,793.4 535.0,795.5 540.0,797.7 C545.0,799.9 550.0,802.2 555.0,804.6 C560.0,806.9 565.0,809.4 570.0,811.9 C575.0,814.4 580.0,817.0 585.0,819.6 C590.0,822.3 595.0,825.0 600.0,827.8 C605.0,830.6 610.0,833.5 615.0,836.4 C620.0,839.3 625.0,842.3 630.0,845.3 C635.0,848.3 640.0,851.4 645.0,854.6 C650.0,857.7 655.0,860.9 660.0,864.2 C665.0,867.4 670.0,870.7 675.0,874.0 C680.0,877.4 685.0,880.8 690.0,884.2 C695.0,887.6 700.0,891.1 705.0,894.6 C710.0,898.1 715.0,901.7 720.0,905.3 C725.0,908.8 730.0,912.5 735.0,916.1 C740.0,919.7 745.0,923.4 750.0,927.1 C755.0,930.8 760.0,934.6 765.0,938.3 C770.0,942.1 775.0,945.8 780.0,949.6 C785.0,953.4 790.0,957.2 795.0,961.1 C800.0,964.9 805.0,968.8 810.0,972.6 C815.0,976.5 820.0,980.4 825.0,984.2 C830.0,988.1 835.0,992.0 840.0,995.9 C845.0,999.8 850.0,1003.7 855.0,1007.6 C860.0,1011.5 865.0,1015.5 870.0,1019.4 C875.0,1023.3 880.0,1027.2 885.0,1031.1 C890.0,1035.0 895.0,1038.9 900.0,1042.8 C905.0,1046.7 910.0,1050.6 915.0,1054.5 C920.0,1058.3 925.0,1062.2 930.0,1066.0 C935.0,1069.9 940.0,1073.7 945.0,1077.5 C950.0,1081.4 955.0,1085.2 960.0,1088.9 C965.0,1092.7 970.0,1096.5 975.0,1100.2 C980.0,1103.9 985.0,1107.6 990.0,1111.3 C995.0,1115.0 1000.0,1118.6 1005.0,1122.3 C1010.0,1125.9 1015.0,1129.5 1020.0,1133.0 C1025.0,1136.6 1030.0,1140.1 1035.0,1143.6 C1040.0,1147.0 1045.0,1150.5 1050.0,1153.9 C1055.0,1157.3 1060.0,1160.6 1065.0,1163.9 C1070.0,1167.2 1075.0,1170.5 1080.0,1173.7 C1085.0,1176.9 1090.0,1180.1 1095.0,1183.2 C1100.0,1186.3 1105.0,1189.4 1110.0,1192.4 C1115.0,1195.4 1120.0,1198.4 1125.0,1201.3 C1130.0,1204.2 1135.0,1207.0 1140.0,1209.8 C1145.0,1212.6 1150.0,1215.4 1155.0,1218.1 C1160.0,1220.8 1165.0,1223.4 1170.0,1226.0 C1175.0,1228.6 1180.0,1231.2 1185.0,1233.7 C1190.0,1236.2 1195.0,1238.7 1200.0,1241.1 C1205.0,1243.5 1210.0,1245.9 1215.0,1248.2 C1220.0,1250.6 1225.0,1252.8 1230.0,1255.1 C1235.0,1257.3 1240.0,1259.5 1245.0,1261.7 C1250.0,1263.8 1255.0,1265.9 1260.0,1268.0 C1265.0,1270.1 1270.0,1272.1 1275.0,1274.1 C1280.0,1276.1 1285.0,1278.1 1290.0,1280.0 C1295.0,1281.9 1300.0,1283.8 1305.0,1285.6 C1310.0,1287.5 1315.0,1289.3 1320.0,1291.1 C1325.0,1292.8 1330.0,1294.6 1335.0,1296.3 C1340.0,1298.0 1345.0,1299.6 1350.0,1301.3 C1355.0,1302.9 1360.0,1304.5 1365.0,1306.1 C1370.0,1307.6 1375.0,1309.2 1380.0,1310.7 C1385.0,1312.2 1390.0,1313.6 1395.0,1315.1 C1400.0,1316.5 1405.0,1317.9 1410.0,1319.3 C1415.0,1320.7 1420.0,1322.1 1425.0,1323.4 C1430.0,1324.7 1435.0,1326.0 1440.0,1327.3 C1445.0,1328.6 1450.0,1329.9 1455.0,1331.1 C1460.0,1332.3 1465.0,1333.5 1470.0,1334.7 C1475.0,1335.9 1480.0,1337.0 1485.0,1338.2 C1490.0,1339.3 1497.5,1340.9 1500.0,1341.5 L1500.0,1369.7 C1497.5,1369.1 1490.0,1367.0 1485.0,1365.7 C1480.0,1364.3 1475.0,1362.9 1470.0,1361.5 C1465.0,1360.1 1460.0,1358.6 1455.0,1357.2 C1450.0,1355.7 1445.0,1354.3 1440.0,1352.8 C1435.0,1351.3 1430.0,1349.7 1425.0,1348.2 C1420.0,1346.7 1415.0,1345.1 1410.0,1343.5 C1405.0,1341.9 1400.0,1340.3 1395.0,1338.7 C1390.0,1337.1 1385.0,1335.4 1380.0,1333.7 C1375.0,1332.0 1370.0,1330.3 1365.0,1328.6 C1360.0,1326.9 1355.0,1325.1 1350.0,1323.3 C1345.0,1321.6 1340.0,1319.8 1335.0,1317.9 C1330.0,1316.1 1325.0,1314.2 1320.0,1312.3 C1315.0,1310.4 1310.0,1308.5 1305.0,1306.6 C1300.0,1304.6 1295.0,1302.6 1290.0,1300.6 C1285.0,1298.6 1280.0,1296.6 1275.0,1294.5 C1270.0,1292.5 1265.0,1290.4 1260.0,1288.2 C1255.0,1286.1 1250.0,1283.9 1245.0,1281.7 C1240.0,1279.5 1235.0,1277.3 1230.0,1275.0 C1225.0,1272.8 1220.0,1270.5 1215.0,1268.2 C1210.0,1265.8 1205.0,1263.5 1200.0,1261.1 C1195.0,1258.7 1190.0,1256.2 1185.0,1253.8 C1180.0,1251.3 1175.0,1248.8 1170.0,1246.2 C1165.0,1243.7 1160.0,1241.1 1155.0,1238.5 C1150.0,1235.9 1145.0,1233.2 1140.0,1230.5 C1135.0,1227.8 1130.0,1225.1 1125.0,1222.3 C1120.0,1219.5 1115.0,1216.7 1110.0,1213.9 C1105.0,1211.0 1100.0,1208.1 1095.0,1205.2 C1090.0,1202.3 1085.0,1199.3 1080.0,1196.3 C1075.0,1193.2 1070.0,1190.2 1065.0,1187.1 C1060.0,1184.0 1055.0,1180.9 1050.0,1177.7 C1045.0,1174.5 1040.0,1171.3 1035.0,1168.1 C1030.0,1164.8 1025.0,1161.6 1020.0,1158.3 C1015.0,1155.0 1010.0,1151.6 1005.0,1148.3 C1000.0,1144.9 995.0,1141.5 990.0,1138.1 C985.0,1134.7 980.0,1131.3 975.0,1127.8 C970.0,1124.4 965.0,1120.9 960.0,1117.4 C955.0,1113.8 950.0,1110.3 945.0,1106.7 C940.0,1103.1 935.0,1099.5 930.0,1095.8 C925.0,1092.1 920.0,1088.4 915.0,1084.6 C910.0,1080.9 905.0,1077.0 900.0,1073.2 C895.0,1069.3 890.0,1065.3 885.0,1061.4 C880.0,1057.4 875.0,1053.3 870.0,1049.3 C865.0,1045.2 860.0,1041.1 855.0,1037.0 C850.0,1032.9 845.0,1028.7 840.0,1024.6 C835.0,1020.4 830.0,1016.2 825.0,1012.1 C820.0,1007.9 815.0,1003.7 810.0,999.5 C805.0,995.4 800.0,991.2 795.0,987.0 C790.0,982.9 785.0,978.8 780.0,974.7 C775.0,970.6 770.0,966.5 765.0,962.5 C760.0,958.4 755.0,954.4 750.0,950.5 C745.0,946.5 740.0,942.6 735.0,938.8 C730.0,934.9 725.0,931.1 720.0,927.4 C715.0,923.6 710.0,920.0 705.0,916.3 C700.0,912.7 695.0,909.1 690.0,905.6 C685.0,902.0 680.0,898.6 675.0,895.2 C670.0,891.7 665.0,888.4 660.0,885.1 C655.0,881.8 650.0,878.6 645.0,875.4 C640.0,872.3 635.0,869.2 630.0,866.1 C625.0,863.1 620.0,860.2 615.0,857.3 C610.0,854.4 605.0,851.5 600.0,848.8 C595.0,846.0 590.0,843.4 585.0,840.8 C580.0,838.1 575.0,835.6 570.0,833.2 C565.0,830.7 560.0,828.3 555.0,826.0 C550.0,823.7 545.0,821.5 540.0,819.4 C535.0,817.2 530.0,815.2 525.0,813.2 C520.0,811.2 515.0,809.3 510.0,807.5 C505.0,805.7 500.0,804.0 495.0,802.3 C490.0,800.7 485.0,799.1 480.0,797.6 C475.0,796.2 470.0,794.8 465.0,793.4 C460.0,792.1 455.0,790.8 450.0,789.7 C445.0,788.5 440.0,787.4 435.0,786.4 C430.0,785.3 425.0,784.4 420.0,783.5 C415.0,782.6 410.0,781.8 405.0,781.0 C400.0,780.3 395.0,779.6 390.0,779.0 C385.0,778.4 380.0,777.8 375.0,777.4 C370.0,776.9 365.0,776.5 360.0,776.1 C355.0,775.7 350.0,775.5 345.0,775.2 C340.0,775.0 335.0,774.8 330.0,774.7 C325.0,774.6 320.0,774.5 315.0,774.5 C310.0,774.5 305.0,774.6 300.0,774.7 C295.0,774.8 290.0,775.0 285.0,775.3 C280.0,775.5 275.0,775.9 270.0,776.2 C265.0,776.6 260.0,777.1 255.0,777.6 C250.0,778.1 245.0,778.7 240.0,779.3 C235.0,780.0 230.0,780.7 225.0,781.5 C220.0,782.3 215.0,783.2 210.0,784.1 C205.0,785.0 200.0,786.0 195.0,787.1 C190.0,788.2 185.0,789.4 180.0,790.6 C175.0,791.9 170.0,793.2 165.0,794.6 C160.0,796.0 155.0,797.5 150.0,799.0 C145.0,800.6 140.0,802.2 135.0,803.9 C130.0,805.6 125.0,807.4 120.0,809.3 C115.0,811.2 110.0,813.2 105.0,815.2 C100.0,817.3 95.0,819.4 90.0,821.7 C85.0,823.9 80.0,826.2 75.0,828.6 C70.0,831.1 65.0,833.6 60.0,836.2 C55.0,838.7 50.0,841.4 45.0,844.2 C40.0,847.0 35.0,849.9 30.0,852.8 C25.0,855.8 20.0,858.9 15.0,862.0 C10.0,865.2 2.5,870.2 0.0,871.8 Z" fill="url(#gRim)"/>
<path d="M400.0,314.1 C400.8,314.1 401.7,314.0 405.0,313.7 C408.3,313.4 415.0,312.9 420.0,312.6 C425.0,312.2 430.0,311.9 435.0,311.6 C440.0,311.3 445.0,311.0 450.0,310.8 C455.0,310.5 460.0,310.3 465.0,310.1 C470.0,309.9 475.0,309.8 480.0,309.6 C485.0,309.5 490.0,309.3 495.0,309.2 C500.0,309.1 505.0,309.1 510.0,309.0 C515.0,308.9 520.0,308.9 525.0,308.9 C530.0,308.8 535.0,308.8 540.0,308.9 C545.0,308.9 550.0,308.9 555.0,308.9 C560.0,309.0 565.0,309.0 570.0,309.1 C575.0,309.2 580.0,309.3 585.0,309.4 C590.0,309.5 595.0,309.6 600.0,309.7 C605.0,309.8 610.0,309.9 615.0,310.1 C620.0,310.2 625.0,310.3 630.0,310.5 C635.0,310.6 640.0,310.8 645.0,311.0 C650.0,311.1 655.0,311.3 660.0,311.5 C665.0,311.7 670.0,311.8 675.0,312.0 C680.0,312.2 685.0,312.4 690.0,312.6 C695.0,312.8 700.0,312.9 705.0,313.1 C710.0,313.3 715.0,313.5 720.0,313.7 C725.0,313.9 730.0,314.0 735.0,314.2 C740.0,314.4 745.0,314.6 750.0,314.7 C755.0,314.9 760.0,315.1 765.0,315.2 C770.0,315.4 775.0,315.5 780.0,315.7 C785.0,315.8 790.0,316.0 795.0,316.1 C800.0,316.2 805.0,316.3 810.0,316.5 C815.0,316.6 820.0,316.7 825.0,316.8 C830.0,316.9 835.0,317.0 840.0,317.1 C845.0,317.2 850.0,317.3 855.0,317.4 C860.0,317.5 865.0,317.6 870.0,317.7 C875.0,317.8 880.0,317.8 885.0,317.9 C890.0,318.0 895.0,318.1 900.0,318.2 C905.0,318.3 910.0,318.3 915.0,318.4 C920.0,318.5 925.0,318.6 930.0,318.6 C935.0,318.7 940.0,318.8 945.0,318.9 C950.0,319.0 955.0,319.0 960.0,319.1 C965.0,319.2 970.0,319.3 975.0,319.4 C980.0,319.4 985.0,319.5 990.0,319.6 C995.0,319.7 1000.0,319.8 1005.0,319.9 C1010.0,320.0 1015.0,320.1 1020.0,320.2 C1025.0,320.3 1030.0,320.4 1035.0,320.5 C1040.0,320.6 1045.0,320.7 1050.0,320.8 C1055.0,320.9 1060.0,321.1 1065.0,321.2 C1070.0,321.3 1075.0,321.4 1080.0,321.6 C1085.0,321.7 1090.0,321.9 1095.0,322.0 C1100.0,322.2 1105.0,322.3 1110.0,322.5 C1115.0,322.7 1120.0,322.9 1125.0,323.0 C1130.0,323.2 1135.0,323.4 1140.0,323.6 C1145.0,323.8 1150.0,324.0 1155.0,324.3 C1160.0,324.5 1165.0,324.7 1170.0,325.0 C1175.0,325.2 1180.0,325.5 1185.0,325.7 C1190.0,326.0 1195.0,326.2 1200.0,326.5 C1205.0,326.8 1210.0,327.1 1215.0,327.4 C1220.0,327.8 1225.0,328.1 1230.0,328.5 C1235.0,328.8 1240.0,329.2 1245.0,329.7 C1250.0,330.1 1255.0,330.6 1260.0,331.2 C1265.0,331.7 1270.0,332.3 1275.0,332.9 C1280.0,333.6 1285.0,334.3 1290.0,335.1 C1295.0,335.9 1300.0,336.7 1305.0,337.7 C1310.0,338.6 1315.0,339.6 1320.0,340.8 C1325.0,341.9 1330.0,343.1 1335.0,344.4 C1340.0,345.7 1345.0,347.1 1350.0,348.6 C1355.0,350.0 1360.0,351.6 1365.0,353.3 C1370.0,355.0 1375.0,356.8 1380.0,358.6 C1385.0,360.5 1390.0,362.5 1395.0,364.6 C1400.0,366.6 1405.0,368.8 1410.0,371.0 C1415.0,373.3 1420.0,375.6 1425.0,377.9 C1430.0,380.2 1435.0,382.6 1440.0,385.0 C1445.0,387.4 1450.0,389.8 1455.0,392.1 C1460.0,394.5 1465.0,396.8 1470.0,399.1 C1475.0,401.3 1480.0,403.5 1485.0,405.6 C1490.0,407.6 1497.5,410.5 1500.0,411.5 L1500,804 L1500.0,804.3 C1497.5,804.1 1490.0,803.6 1484.9,803.1 C1479.9,802.6 1474.9,801.9 1469.9,801.1 C1464.8,800.3 1459.8,799.3 1454.8,798.2 C1449.8,797.2 1444.7,796.0 1439.7,794.6 C1434.7,793.3 1429.7,791.9 1424.7,790.3 C1419.6,788.7 1414.6,787.0 1409.6,785.3 C1404.6,783.5 1399.5,781.5 1394.5,779.5 C1389.5,777.5 1384.5,775.4 1379.5,773.2 C1374.4,771.0 1369.4,768.7 1364.4,766.2 C1359.4,763.8 1354.3,761.3 1349.3,758.7 C1344.3,756.1 1339.3,753.4 1334.2,750.7 C1329.2,747.9 1324.2,745.1 1319.2,742.1 C1314.2,739.2 1309.1,736.2 1304.1,733.1 C1299.1,730.1 1294.1,726.9 1289.0,723.7 C1284.0,720.5 1279.0,717.2 1274.0,713.9 C1268.9,710.6 1263.9,707.2 1258.9,703.7 C1253.9,700.3 1248.9,696.8 1243.8,693.3 C1238.8,689.7 1233.8,686.1 1228.8,682.5 C1223.7,678.8 1218.7,675.2 1213.7,671.4 C1208.7,667.7 1203.7,664.0 1198.6,660.2 C1193.6,656.4 1188.6,652.6 1183.6,648.8 C1178.5,644.9 1173.5,641.1 1168.5,637.2 C1163.5,633.3 1158.4,629.4 1153.4,625.5 C1148.4,621.6 1143.4,617.7 1138.4,613.8 C1133.3,609.8 1128.3,605.9 1123.3,602.0 C1118.3,598.0 1113.2,594.1 1108.2,590.1 C1103.2,586.2 1098.2,582.3 1093.2,578.4 C1088.1,574.4 1083.1,570.5 1078.1,566.6 C1073.1,562.8 1068.0,558.9 1063.0,555.0 C1058.0,551.2 1053.0,547.3 1047.9,543.5 C1042.9,539.7 1037.9,535.9 1032.9,532.2 C1027.9,528.5 1022.8,524.7 1017.8,521.1 C1012.8,517.4 1007.8,513.8 1002.7,510.2 C997.7,506.6 992.7,503.1 987.7,499.6 C982.6,496.1 977.6,492.6 972.6,489.2 C967.6,485.8 962.6,482.4 957.5,479.1 C952.5,475.8 947.5,472.5 942.5,469.2 C937.4,466.0 932.4,462.8 927.4,459.7 C922.4,456.5 917.4,453.4 912.3,450.4 C907.3,447.3 902.3,444.3 897.3,441.4 C892.2,438.4 887.2,435.5 882.2,432.6 C877.2,429.8 872.1,426.9 867.1,424.2 C862.1,421.4 857.1,418.7 852.1,416.0 C847.0,413.3 842.0,410.7 837.0,408.1 C832.0,405.5 826.9,403.0 821.9,400.5 C816.9,398.0 811.9,395.5 806.8,393.1 C801.8,390.8 796.8,388.4 791.8,386.1 C786.8,383.8 781.7,381.6 776.7,379.4 C771.7,377.2 766.7,375.0 761.6,373.0 C756.6,370.9 751.6,368.8 746.6,366.8 C741.6,364.8 736.5,362.9 731.5,361.0 C726.5,359.1 721.5,357.2 716.4,355.5 C711.4,353.7 706.4,351.9 701.4,350.2 C696.3,348.5 691.3,346.9 686.3,345.3 C681.3,343.7 676.3,342.2 671.2,340.7 C666.2,339.2 661.2,337.8 656.2,336.4 C651.1,335.1 646.1,333.7 641.1,332.5 C636.1,331.2 631.1,330.0 626.0,328.8 C621.0,327.7 616.0,326.5 611.0,325.5 C605.9,324.4 600.9,323.4 595.9,322.5 C590.9,321.5 585.8,320.7 580.8,319.8 C575.8,319.0 570.8,318.2 565.8,317.5 C560.7,316.7 555.7,316.1 550.7,315.5 C545.7,314.8 540.6,314.3 535.6,313.8 C530.6,313.3 525.6,312.8 520.5,312.4 C515.5,312.1 510.5,311.7 505.5,311.4 C500.5,311.2 495.4,310.9 490.4,310.8 C485.4,310.6 480.4,310.5 475.3,310.5 C470.3,310.4 465.3,310.4 460.3,310.5 C455.3,310.6 450.2,310.7 445.2,310.9 C440.2,311.1 435.2,311.3 430.1,311.6 C425.1,311.9 420.1,312.3 415.1,312.7 C410.0,313.1 402.5,313.9 400.0,314.2 Z" fill="#141414" filter="url(#tx3)"/>
<g clip-path="url(#clipTop)">
<g fill="#69b4e6">
<polygon points="720.7,315.3 748.6,315.3 731,330.8 711.4,325.7"/>
<polygon points="770.3,316.4 803.3,317.4 774.4,344.3 755.8,338"/>
<polygon points="815.7,317.4 847.8,318.4 806.4,354.6 786.8,349.4"/>
<path d="M821.9,359.8 L850.9,320.5 L881.9,321.5 Q906,325 915,343 Q918,352 910,358 L883.9,377.3 L865.3,373.2 L889,351 Q894,343 886,338 Q877,335 870,340 L842.6,364.9 Z"/>
<g transform="rotate(-14 949 372)"><ellipse cx="949" cy="372" rx="41" ry="22"/></g>
<path d="M990,352 L1006,361 L968,406 L955,401 Z"/>
<path d="M962,402 C945,424 890,428 873,413 C866,404 885,394 915,394 L1000,392 L1001,398 L918,401 C893,402 882,406 886,410 C898,418 940,416 957,398 Z"/>
<g transform="rotate(-12 1101 418)"><ellipse cx="1101.5" cy="418.5" rx="42.5" ry="22.5"/></g>
<path d="M1125,453 L1168,412 Q1196,407 1214,422 Q1231,437 1224,451 L1197,476 L1175,469 L1199,446 Q1204,434 1192,431 L1148,460 Z"/>
</g>
<g fill="#141414">
<g transform="rotate(-14 949 371)"><ellipse cx="950" cy="371" rx="21" ry="9"/></g>
<g transform="rotate(-28 1101 418)"><ellipse cx="1101" cy="418" rx="22" ry="9.5"/></g>
</g>
<g fill="#e9c068">
<polygon points="957,458 1022,474 1019,479.5 955.5,463"/>
<polygon points="977,465 992,469 982,488 966,479"/>
<polygon points="1033,476 1054,481 1021,511 1005,504"/>
<path d="M1015,512 C1030,504 1052,506 1057,520 C1060,530 1055,536 1050,540 L1038,536 C1043,530 1044,522 1035,520 C1028,518 1020,520 1016,524 Z"/>
<path d="M1059,552 C1062,536 1085,528 1108,531 C1118,532 1126,536 1131,540 L1142,542 L1118,580 C1116,585 1122,587 1135,583 L1138,586 C1125,592 1108,593 1104,583 C1094,590 1075,590 1066,583 C1058,576 1056,562 1059,552 Z"/>
<path d="M1181,540 L1200,546 L1160,592 C1158,596 1165,597 1180,593 L1184,595 C1170,602 1150,605 1142,600 C1136,596 1137,590 1140,586 Z"/>
<polygon points="1160,553 1204,560 1203,565 1157,558"/>
</g>
<ellipse cx="1092" cy="551" rx="19" ry="8.5" transform="rotate(-22 1092 551)" fill="#141414"/>
<g fill="#de779d">
<g transform="rotate(-8 1288 344)"><ellipse cx="1288" cy="344" rx="27" ry="11"/></g>
<g transform="rotate(-10 1404 373)"><ellipse cx="1404" cy="373" rx="17" ry="9"/></g>
<ellipse cx="1058" cy="321" rx="21" ry="5.5"/>
</g>
<g fill="#141414">
<g transform="rotate(-8 1283 341)"><ellipse cx="1283" cy="341" rx="12" ry="5"/></g>
<g transform="rotate(-10 1408 371)"><ellipse cx="1408" cy="371" rx="7" ry="3.5"/></g>
</g>
<g fill="#f0b450">
<ellipse cx="1374" cy="419.5" rx="28" ry="15" transform="rotate(-12 1374 419.5)"/>
<ellipse cx="1335" cy="439" rx="23" ry="14.5" transform="rotate(-12 1335 439)"/>
<ellipse cx="1469" cy="477.5" rx="23" ry="15" transform="rotate(-12 1469 477.5)"/>
<ellipse cx="1429" cy="498.5" rx="28.5" ry="15" transform="rotate(-12 1429 498.5)"/>
<polygon points="1354,449 1396,431 1448,465 1408,486"/>
</g>
<path fill="#f0f0f0" d="M1261,527 C1245,522 1236,505 1243,494 C1250,484 1267,486 1272,500 C1282,494 1304,494 1310,503 C1315,513 1292,522 1261,527 Z"/>
<g fill="#76bce8">
<ellipse cx="1332.4" cy="559.7" rx="22.4" ry="16.3" transform="rotate(-15 1332.4 559.7)"/>
<ellipse cx="1393.4" cy="556.6" rx="25.4" ry="16.3" transform="rotate(-10 1393.4 556.6)"/>
<ellipse cx="1430" cy="580" rx="29.5" ry="14.2" transform="rotate(-5 1430 580)"/>
<ellipse cx="1416.8" cy="615.6" rx="29.5" ry="13.2" transform="rotate(-8 1416.8 615.6)"/>
<path d="M1280.5,595.3 C1285,584 1305,581 1319.2,582 C1345,582 1368,582 1375,592 C1382,602 1375,622 1364,634 C1358,642 1350,646 1345.6,645 C1336,644 1330,638 1327.3,634 C1322,626 1320,618 1313,614 C1300,608 1282,606 1280.5,595.3 Z"/>
</g>
<g fill="#eab55a">
<path d="M1500,586 L1496,612 L1495,638 L1491,652 L1478,668 L1469,682 L1465,700 L1463,717 L1458,734 L1462,748 L1478,761 L1500,773 Z"/>
</g>
<ellipse cx="1493" cy="743" rx="22" ry="18" transform="rotate(-20 1493 743)" fill="#141414"/>
<g fill="none" stroke="#e3b35e" stroke-width="4">
<path d="M1321,693 C1330,680 1355,673 1376,674.6 C1400,676 1425,679 1440,688 C1458,697 1466,710 1462,722 C1458,735 1440,741 1413,740 C1390,739 1368,733 1352,723 C1335,713 1318,703 1321,693 Z"/>
<path d="M1343,708 Q1345,699 1355,696" stroke-width="2.5"/>
<path d="M1376,723 Q1385,705 1404,701" stroke-width="2.5"/>
<path d="M1412,734 Q1422,716 1439,712" stroke-width="2.5"/>
</g>
<g transform="rotate(-8 1346 749)"><ellipse cx="1346" cy="749" rx="10.5" ry="6.5" fill="none" stroke="#e48ab0" stroke-width="3.5"/></g>

</g>
<path d="M400.0,312.7 C402.5,312.4 410.0,311.6 415.1,311.1 C420.1,310.6 425.1,310.2 430.1,309.9 C435.2,309.6 440.2,309.3 445.2,309.0 C450.2,308.8 455.3,308.7 460.3,308.6 C465.3,308.4 470.3,308.4 475.3,308.4 C480.4,308.4 485.4,308.5 490.4,308.6 C495.4,308.7 500.5,308.9 505.5,309.2 C510.5,309.4 515.5,309.8 520.5,310.1 C525.6,310.5 530.6,311.0 535.6,311.4 C540.6,311.9 545.7,312.5 550.7,313.1 C555.7,313.7 560.7,314.3 565.8,315.1 C570.8,315.8 575.8,316.5 580.8,317.4 C585.8,318.2 590.9,319.1 595.9,320.0 C600.9,320.9 605.9,321.9 611.0,322.9 C616.0,324.0 621.0,325.1 626.0,326.2 C631.1,327.3 636.1,328.5 641.1,329.8 C646.1,331.0 651.1,332.3 656.2,333.7 C661.2,335.0 666.2,336.4 671.2,337.9 C676.3,339.3 681.3,340.8 686.3,342.4 C691.3,344.0 696.3,345.6 701.4,347.2 C706.4,348.9 711.4,350.6 716.4,352.4 C721.5,354.1 726.5,356.0 731.5,357.8 C736.5,359.7 741.6,361.6 746.6,363.6 C751.6,365.6 756.6,367.6 761.6,369.6 C766.7,371.7 771.7,373.8 776.7,376.0 C781.7,378.2 786.8,380.4 791.8,382.7 C796.8,384.9 801.8,387.2 806.8,389.6 C811.9,392.0 816.9,394.4 821.9,396.9 C826.9,399.3 832.0,401.8 837.0,404.4 C842.0,407.0 847.0,409.6 852.1,412.2 C857.1,414.9 862.1,417.6 867.1,420.3 C872.1,423.1 877.2,425.9 882.2,428.7 C887.2,431.6 892.2,434.4 897.3,437.4 C902.3,440.3 907.3,443.3 912.3,446.4 C917.4,449.4 922.4,452.5 927.4,455.7 C932.4,458.8 937.4,462.0 942.5,465.2 C947.5,468.5 952.5,471.8 957.5,475.1 C962.6,478.4 967.6,481.8 972.6,485.2 C977.6,488.6 982.6,492.1 987.7,495.6 C992.7,499.1 997.7,502.6 1002.7,506.2 C1007.8,509.8 1012.8,513.4 1017.8,517.0 C1022.8,520.7 1027.9,524.4 1032.9,528.1 C1037.9,531.8 1042.9,535.6 1047.9,539.4 C1053.0,543.2 1058.0,547.0 1063.0,550.9 C1068.0,554.7 1073.1,558.6 1078.1,562.4 C1083.1,566.3 1088.1,570.2 1093.2,574.1 C1098.2,578.0 1103.2,582.0 1108.2,585.9 C1113.2,589.8 1118.3,593.7 1123.3,597.7 C1128.3,601.6 1133.3,605.5 1138.4,609.4 C1143.4,613.3 1148.4,617.2 1153.4,621.1 C1158.4,625.0 1163.5,628.9 1168.5,632.8 C1173.5,636.6 1178.5,640.5 1183.6,644.3 C1188.6,648.1 1193.6,652.0 1198.6,655.7 C1203.7,659.5 1208.7,663.2 1213.7,666.9 C1218.7,670.5 1223.7,674.2 1228.8,677.8 C1233.8,681.4 1238.8,684.9 1243.8,688.4 C1248.9,692.0 1253.9,695.4 1258.9,698.8 C1263.9,702.2 1268.9,705.6 1274.0,708.9 C1279.0,712.2 1284.0,715.4 1289.0,718.6 C1294.1,721.8 1299.1,724.9 1304.1,727.9 C1309.1,731.0 1314.2,733.9 1319.2,736.8 C1324.2,739.7 1329.2,742.5 1334.2,745.3 C1339.3,748.0 1344.3,750.6 1349.3,753.2 C1354.3,755.7 1359.4,758.2 1364.4,760.6 C1369.4,763.0 1374.4,765.2 1379.5,767.4 C1384.5,769.6 1389.5,771.8 1394.5,773.8 C1399.5,775.8 1404.6,777.8 1409.6,779.6 C1414.6,781.4 1419.6,783.1 1424.7,784.6 C1429.7,786.2 1434.7,787.7 1439.7,789.0 C1444.7,790.4 1449.8,791.6 1454.8,792.7 C1459.8,793.7 1464.8,794.7 1469.9,795.5 C1474.9,796.3 1479.9,797.0 1484.9,797.6 C1490.0,798.1 1497.5,798.6 1500.0,798.8 L1500.0,809.8 C1497.5,809.6 1490.0,809.2 1484.9,808.6 C1479.9,808.1 1474.9,807.4 1469.9,806.6 C1464.8,805.8 1459.8,804.9 1454.8,803.8 C1449.8,802.8 1444.7,801.6 1439.7,800.3 C1434.7,799.0 1429.7,797.5 1424.7,796.0 C1419.6,794.4 1414.6,792.7 1409.6,790.9 C1404.6,789.2 1399.5,787.3 1394.5,785.3 C1389.5,783.3 1384.5,781.2 1379.5,778.9 C1374.4,776.7 1369.4,774.3 1364.4,771.9 C1359.4,769.4 1354.3,766.9 1349.3,764.3 C1344.3,761.6 1339.3,758.9 1334.2,756.1 C1329.2,753.3 1324.2,750.4 1319.2,747.5 C1314.2,744.5 1309.1,741.5 1304.1,738.4 C1299.1,735.3 1294.1,732.1 1289.0,728.8 C1284.0,725.6 1279.0,722.3 1274.0,718.9 C1268.9,715.6 1263.9,712.1 1258.9,708.7 C1253.9,705.2 1248.9,701.6 1243.8,698.1 C1238.8,694.5 1233.8,690.8 1228.8,687.2 C1223.7,683.5 1218.7,679.8 1213.7,676.0 C1208.7,672.3 1203.7,668.5 1198.6,664.7 C1193.6,660.9 1188.6,657.1 1183.6,653.2 C1178.5,649.4 1173.5,645.5 1168.5,641.6 C1163.5,637.7 1158.4,633.8 1153.4,629.9 C1148.4,626.0 1143.4,622.0 1138.4,618.1 C1133.3,614.2 1128.3,610.2 1123.3,606.3 C1118.3,602.3 1113.2,598.4 1108.2,594.4 C1103.2,590.5 1098.2,586.5 1093.2,582.6 C1088.1,578.7 1083.1,574.7 1078.1,570.8 C1073.1,566.9 1068.0,563.0 1063.0,559.2 C1058.0,555.3 1053.0,551.5 1047.9,547.6 C1042.9,543.8 1037.9,540.0 1032.9,536.3 C1027.9,532.5 1022.8,528.8 1017.8,525.1 C1012.8,521.4 1007.8,517.8 1002.7,514.2 C997.7,510.6 992.7,507.1 987.7,503.6 C982.6,500.1 977.6,496.6 972.6,493.2 C967.6,489.8 962.6,486.4 957.5,483.1 C952.5,479.8 947.5,476.5 942.5,473.2 C937.4,470.0 932.4,466.8 927.4,463.7 C922.4,460.5 917.4,457.4 912.3,454.4 C907.3,451.3 902.3,448.3 897.3,445.3 C892.2,442.4 887.2,439.4 882.2,436.5 C877.2,433.6 872.1,430.8 867.1,428.0 C862.1,425.2 857.1,422.4 852.1,419.7 C847.0,417.0 842.0,414.4 837.0,411.8 C832.0,409.2 826.9,406.6 821.9,404.1 C816.9,401.6 811.9,399.1 806.8,396.7 C801.8,394.3 796.8,391.9 791.8,389.6 C786.8,387.3 781.7,385.0 776.7,382.8 C771.7,380.6 766.7,378.4 761.6,376.3 C756.6,374.1 751.6,372.1 746.6,370.1 C741.6,368.0 736.5,366.1 731.5,364.1 C726.5,362.2 721.5,360.4 716.4,358.5 C711.4,356.7 706.4,355.0 701.4,353.2 C696.3,351.5 691.3,349.9 686.3,348.3 C681.3,346.6 676.3,345.1 671.2,343.6 C666.2,342.1 661.2,340.6 656.2,339.2 C651.1,337.8 646.1,336.5 641.1,335.2 C636.1,333.9 631.1,332.6 626.0,331.5 C621.0,330.3 616.0,329.1 611.0,328.0 C605.9,327.0 600.9,325.9 595.9,325.0 C590.9,324.0 585.8,323.1 580.8,322.3 C575.8,321.4 570.8,320.6 565.8,319.9 C560.7,319.1 555.7,318.5 550.7,317.8 C545.7,317.2 540.6,316.6 535.6,316.1 C530.6,315.6 525.6,315.1 520.5,314.7 C515.5,314.3 510.5,314.0 505.5,313.7 C500.5,313.4 495.4,313.2 490.4,313.0 C485.4,312.8 480.4,312.6 475.3,312.5 C470.3,312.5 465.3,312.4 460.3,312.5 C455.3,312.5 450.2,312.6 445.2,312.7 C440.2,312.9 435.2,313.1 430.1,313.3 C425.1,313.6 420.1,313.9 415.1,314.3 C410.0,314.7 402.5,315.4 400.0,315.7 Z" fill="#ebebeb"/>
<line x1="398" y1="183.6" x2="398" y2="425" stroke="#39ada5" stroke-width="4" stroke-dasharray="14.3 8.1"/>
<line x1="1163.2" y1="168.1" x2="1163.2" y2="305" stroke="#39ada5" stroke-width="4" stroke-dasharray="14.3 8.1"/>
<line x1="270.2" y1="595.2" x2="270.2" y2="1126" stroke="#39ada5" stroke-width="4" stroke-dasharray="14.3 8.1"/>
<line x1="889.5" y1="1037" x2="889.5" y2="1233" stroke="#39ada5" stroke-width="4" stroke-dasharray="14.3 8.1"/>
<circle cx="398.1" cy="441.3" r="28" fill="rgba(70,222,208,0.42)"/><circle cx="398.1" cy="441.3" r="17.7" fill="#36c8b9"/>
<circle cx="1163.4" cy="327.3" r="28" fill="rgba(70,222,208,0.42)"/><circle cx="1163.4" cy="327.3" r="17.7" fill="#36c8b9"/>
<circle cx="270.4" cy="592.7" r="28" fill="rgba(70,222,208,0.42)"/><circle cx="270.4" cy="592.7" r="17.7" fill="#36c8b9"/>
<circle cx="889.4" cy="1035.1" r="28" fill="rgba(70,222,208,0.42)"/><circle cx="889.4" cy="1035.1" r="17.7" fill="#36c8b9"/>
<text x="252.5" y="83.6" textLength="297.5" lengthAdjust="spacingAndGlyphs" font-family="Liberation Sans" font-size="28.5" fill="#0c0c0c">Soft and comfortable</text>
<rect x="135" y="97.8" width="528.0" height="91.1" rx="45.6" fill="#d2efed"/>
<rect x="139.5" y="102.3" width="519.0" height="82.1" rx="41.1" fill="#39bdb6" stroke="#a8efea" stroke-width="1.2"/>
<text x="163" y="154.5" textLength="475" lengthAdjust="spacingAndGlyphs" font-family="Liberation Sans" font-weight="bold" font-size="38" fill="#fdfffe">Regenerated sponge layer</text>
<text x="896.7" y="25.6" textLength="512.3" lengthAdjust="spacingAndGlyphs" font-family="Liberation Sans" font-size="28.5" fill="#0c0c0c">Rapid penetration of mois-ture does</text>
<text x="896.7" y="53" textLength="217.3" lengthAdjust="spacingAndGlyphs" font-family="Liberation Sans" font-size="28.5" fill="#0c0c0c">not accumulate</text>
<rect x="883.8" y="70.8" width="558.6" height="88.5" rx="44.3" fill="#d2efed"/>
<rect x="888.3" y="75.3" width="549.6" height="79.5" rx="39.8" fill="#39bdb6" stroke="#a8efea" stroke-width="1.2"/>
<text x="909" y="126.7" textLength="512.5" lengthAdjust="spacingAndGlyphs" font-family="Liberation Sans" font-weight="bold" font-size="38" fill="#fdfffe">Nappa leather fabric surface</text>
<rect x="42.4" y="1128.7" width="457.1" height="90.2" rx="45.1" fill="#d2efed"/>
<rect x="46.9" y="1133.2" width="448.1" height="81.2" rx="40.6" fill="#39bdb6" stroke="#a8efea" stroke-width="1.2"/>
<text x="70.8" y="1185.2" textLength="410.7" lengthAdjust="spacingAndGlyphs" font-family="Liberation Sans" font-weight="bold" font-size="38" fill="#fdfffe">Foam absorbent layer</text>
<text x="56" y="1258.7" textLength="444.4" lengthAdjust="spacingAndGlyphs" font-family="Liberation Sans" font-size="28.5" fill="#0c0c0c">Absorb instantly and evaporate</text>
<text x="56" y="1284.9" textLength="99.8" lengthAdjust="spacingAndGlyphs" font-family="Liberation Sans" font-size="28.5" fill="#0c0c0c">quickly</text>
<rect x="650.7" y="1234.3" width="476.6" height="90.7" rx="45.4" fill="#d2efed"/>
<rect x="655.2" y="1238.8" width="467.6" height="81.7" rx="40.9" fill="#39bdb6" stroke="#a8efea" stroke-width="1.2"/>
<text x="676.7" y="1290" textLength="438.3" lengthAdjust="spacingAndGlyphs" font-family="Liberation Sans" font-weight="bold" font-size="38" fill="#fdfffe">Non-slip rubber bottom</text>
<text x="677.3" y="1367.7" textLength="396.7" lengthAdjust="spacingAndGlyphs" font-family="Liberation Sans" font-size="28.5" fill="#0c0c0c">Anti-slip texture for firm grip</text>
</svg>
</body></html>
